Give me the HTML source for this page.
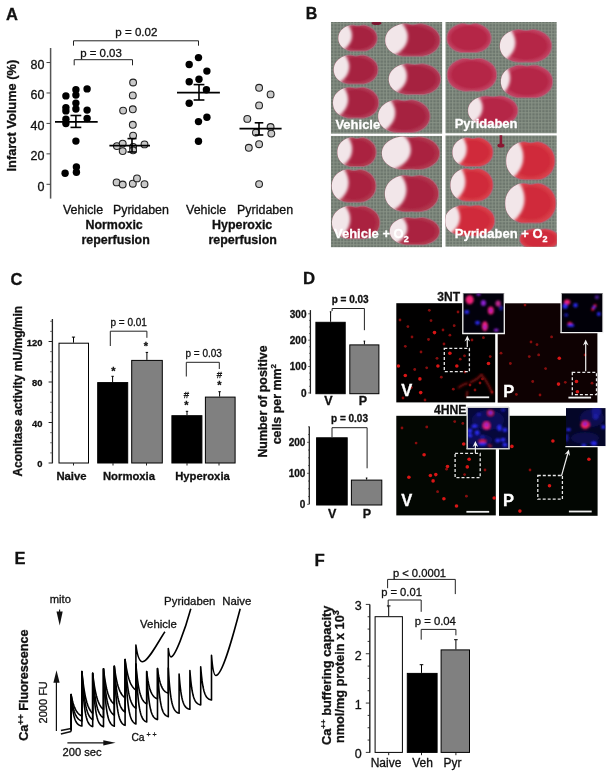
<!DOCTYPE html>
<html><head><meta charset="utf-8"><style>
html,body{margin:0;padding:0;background:#fff;}
svg{display:block;font-family:"Liberation Sans",sans-serif;will-change:transform;filter:blur(0.35px);}
text{stroke:#111;stroke-width:0.3px;}
text[fill="#fff"]{stroke:#fff;}
</style></head><body>
<svg width="612" height="777" viewBox="0 0 612 777">
<rect width="612" height="777" fill="#fff"/>
<text x="6.1" y="19.6" font-size="16.5" font-weight="bold" text-anchor="start" fill="#111" >A</text>
<line x1="50.6" y1="48" x2="50.6" y2="198.6" stroke="#555" stroke-width="1.5"/>
<line x1="46.5" y1="184.3" x2="50.5" y2="184.3" stroke="#444" stroke-width="1"/>
<text x="44.5" y="190.5" font-size="12.5" font-weight="normal" text-anchor="end" fill="#111" >0</text>
<line x1="46.5" y1="153.86" x2="50.5" y2="153.86" stroke="#444" stroke-width="1"/>
<text x="44.5" y="160.06" font-size="12.5" font-weight="normal" text-anchor="end" fill="#111" >20</text>
<line x1="46.5" y1="123.42000000000002" x2="50.5" y2="123.42000000000002" stroke="#444" stroke-width="1"/>
<text x="44.5" y="129.62" font-size="12.5" font-weight="normal" text-anchor="end" fill="#111" >40</text>
<line x1="46.5" y1="92.98" x2="50.5" y2="92.98" stroke="#444" stroke-width="1"/>
<text x="44.5" y="99.18" font-size="12.5" font-weight="normal" text-anchor="end" fill="#111" >60</text>
<line x1="46.5" y1="62.540000000000006" x2="50.5" y2="62.540000000000006" stroke="#444" stroke-width="1"/>
<text x="44.5" y="68.74000000000001" font-size="12.5" font-weight="normal" text-anchor="end" fill="#111" >80</text>
<text transform="translate(16.2,115.6) rotate(-90)" font-size="12.85" font-weight="bold" text-anchor="middle" fill="#111">Infarct Volume (%)</text>
<path d="M73.5,45.7 V40.8 H198.5 V45.7" fill="none" stroke="#222" stroke-width="1"/>
<text x="136.4" y="36" font-size="11.55" font-weight="normal" text-anchor="middle" fill="#111" >p = 0.02</text>
<path d="M74.2,65.3 V59.7 H132.5 V65.3" fill="none" stroke="#222" stroke-width="1"/>
<text x="101" y="56.8" font-size="11.45" font-weight="normal" text-anchor="middle" fill="#111" >p = 0.03</text>
<circle cx="65.9" cy="95.9" r="3.7" fill="#000"/>
<circle cx="75.9" cy="89.7" r="3.7" fill="#000"/>
<circle cx="75.9" cy="95.1" r="3.7" fill="#000"/>
<circle cx="87.1" cy="88.9" r="3.7" fill="#000"/>
<circle cx="65.9" cy="107.6" r="3.7" fill="#000"/>
<circle cx="65.9" cy="110.9" r="3.7" fill="#000"/>
<circle cx="75.9" cy="103.1" r="3.7" fill="#000"/>
<circle cx="75.9" cy="109" r="3.7" fill="#000"/>
<circle cx="87.1" cy="110.1" r="3.7" fill="#000"/>
<circle cx="65.9" cy="119.3" r="3.7" fill="#000"/>
<circle cx="65.9" cy="123.5" r="3.7" fill="#000"/>
<circle cx="87.1" cy="118.5" r="3.7" fill="#000"/>
<circle cx="75.9" cy="141.1" r="3.7" fill="#000"/>
<circle cx="65.1" cy="173.3" r="3.7" fill="#000"/>
<circle cx="76.4" cy="167" r="3.7" fill="#000"/>
<circle cx="76.4" cy="172.3" r="3.7" fill="#000"/>
<circle cx="198.5" cy="57.6" r="3.7" fill="#000"/>
<circle cx="189.2" cy="64.5" r="3.7" fill="#000"/>
<circle cx="206.9" cy="71.1" r="3.7" fill="#000"/>
<circle cx="189.2" cy="81.7" r="3.7" fill="#000"/>
<circle cx="199" cy="79.2" r="3.7" fill="#000"/>
<circle cx="206.4" cy="89.8" r="3.7" fill="#000"/>
<circle cx="189.2" cy="103.2" r="3.7" fill="#000"/>
<circle cx="198.5" cy="121.6" r="3.7" fill="#000"/>
<circle cx="206.9" cy="117.2" r="3.7" fill="#000"/>
<circle cx="198.5" cy="141.2" r="3.7" fill="#000"/>
<circle cx="133.1" cy="82.5" r="3.4" fill="#c9c9c9" stroke="#222" stroke-width="1.1"/>
<circle cx="132.8" cy="95.4" r="3.4" fill="#c9c9c9" stroke="#222" stroke-width="1.1"/>
<circle cx="132.8" cy="109.3" r="3.4" fill="#c9c9c9" stroke="#222" stroke-width="1.1"/>
<circle cx="123.1" cy="110.6" r="3.4" fill="#c9c9c9" stroke="#222" stroke-width="1.1"/>
<circle cx="132.8" cy="124.8" r="3.4" fill="#c9c9c9" stroke="#222" stroke-width="1.1"/>
<circle cx="133.1" cy="135.6" r="3.4" fill="#c9c9c9" stroke="#222" stroke-width="1.1"/>
<circle cx="116.9" cy="146.1" r="3.4" fill="#c9c9c9" stroke="#222" stroke-width="1.1"/>
<circle cx="122.7" cy="143.6" r="3.4" fill="#c9c9c9" stroke="#222" stroke-width="1.1"/>
<circle cx="122.7" cy="151.1" r="3.4" fill="#c9c9c9" stroke="#222" stroke-width="1.1"/>
<circle cx="133.1" cy="146.9" r="3.4" fill="#c9c9c9" stroke="#222" stroke-width="1.1"/>
<circle cx="133.1" cy="150.3" r="3.4" fill="#c9c9c9" stroke="#222" stroke-width="1.1"/>
<circle cx="144.5" cy="144.4" r="3.4" fill="#c9c9c9" stroke="#222" stroke-width="1.1"/>
<circle cx="116.6" cy="182.4" r="3.4" fill="#c9c9c9" stroke="#222" stroke-width="1.1"/>
<circle cx="122.7" cy="184.5" r="3.4" fill="#c9c9c9" stroke="#222" stroke-width="1.1"/>
<circle cx="132.8" cy="183.7" r="3.4" fill="#c9c9c9" stroke="#222" stroke-width="1.1"/>
<circle cx="137" cy="178.4" r="3.4" fill="#c9c9c9" stroke="#222" stroke-width="1.1"/>
<circle cx="144.5" cy="184.2" r="3.4" fill="#c9c9c9" stroke="#222" stroke-width="1.1"/>
<circle cx="259.1" cy="87.8" r="3.4" fill="#c9c9c9" stroke="#222" stroke-width="1.1"/>
<circle cx="270.6" cy="94.4" r="3.4" fill="#c9c9c9" stroke="#222" stroke-width="1.1"/>
<circle cx="259.1" cy="105.4" r="3.4" fill="#c9c9c9" stroke="#222" stroke-width="1.1"/>
<circle cx="247.3" cy="118.9" r="3.4" fill="#c9c9c9" stroke="#222" stroke-width="1.1"/>
<circle cx="255.9" cy="132.6" r="3.4" fill="#c9c9c9" stroke="#222" stroke-width="1.1"/>
<circle cx="270.6" cy="127" r="3.4" fill="#c9c9c9" stroke="#222" stroke-width="1.1"/>
<circle cx="271.3" cy="133.6" r="3.4" fill="#c9c9c9" stroke="#222" stroke-width="1.1"/>
<circle cx="259.1" cy="144.2" r="3.4" fill="#c9c9c9" stroke="#222" stroke-width="1.1"/>
<circle cx="248.8" cy="147.8" r="3.4" fill="#c9c9c9" stroke="#222" stroke-width="1.1"/>
<circle cx="259.1" cy="184.1" r="3.4" fill="#c9c9c9" stroke="#222" stroke-width="1.1"/>
<line x1="55" y1="121.8" x2="97.7" y2="121.8" stroke="#000" stroke-width="1.8"/>
<line x1="75.9" y1="115.5" x2="75.9" y2="127.4" stroke="#000" stroke-width="1.6"/>
<line x1="70.5" y1="115.5" x2="81.30000000000001" y2="115.5" stroke="#000" stroke-width="1.6"/>
<line x1="70.5" y1="127.4" x2="81.30000000000001" y2="127.4" stroke="#000" stroke-width="1.6"/>
<line x1="109.4" y1="145.6" x2="150" y2="145.6" stroke="#000" stroke-width="1.8"/>
<line x1="132" y1="138.6" x2="132" y2="152" stroke="#000" stroke-width="1.6"/>
<line x1="127.5" y1="138.6" x2="136.5" y2="138.6" stroke="#000" stroke-width="1.6"/>
<line x1="127.5" y1="152" x2="136.5" y2="152" stroke="#000" stroke-width="1.6"/>
<line x1="177" y1="92.7" x2="219.9" y2="92.7" stroke="#000" stroke-width="1.8"/>
<line x1="199" y1="84.6" x2="199" y2="100" stroke="#000" stroke-width="1.6"/>
<line x1="193.6" y1="84.6" x2="204.4" y2="84.6" stroke="#000" stroke-width="1.6"/>
<line x1="193.6" y1="100" x2="204.4" y2="100" stroke="#000" stroke-width="1.6"/>
<line x1="239.5" y1="128.7" x2="281.6" y2="128.7" stroke="#000" stroke-width="1.8"/>
<line x1="259" y1="122.8" x2="259" y2="135" stroke="#000" stroke-width="1.6"/>
<line x1="254.7" y1="122.8" x2="263.3" y2="122.8" stroke="#000" stroke-width="1.6"/>
<line x1="254.7" y1="135" x2="263.3" y2="135" stroke="#000" stroke-width="1.6"/>
<text x="83" y="213.6" font-size="12.45" font-weight="normal" text-anchor="middle" fill="#111" >Vehicle</text>
<text x="140.9" y="213.6" font-size="12.45" font-weight="normal" text-anchor="middle" fill="#111" >Pyridaben</text>
<text x="114.1" y="229.3" font-size="12.45" font-weight="bold" text-anchor="middle" fill="#111" >Normoxic</text>
<text x="115.6" y="243.7" font-size="12.45" font-weight="bold" text-anchor="middle" fill="#111" >reperfusion</text>
<text x="206.1" y="213.6" font-size="12.45" font-weight="normal" text-anchor="middle" fill="#111" >Vehicle</text>
<text x="265.1" y="213.6" font-size="12.45" font-weight="normal" text-anchor="middle" fill="#111" >Pyridaben</text>
<text x="242.2" y="229.3" font-size="12.45" font-weight="bold" text-anchor="middle" fill="#111" >Hyperoxic</text>
<text x="242.7" y="243.7" font-size="12.45" font-weight="bold" text-anchor="middle" fill="#111" >reperfusion</text>
<text x="305.8" y="18.9" font-size="16" font-weight="bold" text-anchor="start" fill="#111" >B</text>
<defs>
<pattern id="grid" width="3.3" height="3.3" patternUnits="userSpaceOnUse">
<rect width="3.3" height="3.3" fill="#6c766d"/>
<path d="M0,0.6 H3.3 M0.6,0 V3.3" stroke="#8a9488" stroke-width="0.9"/>
</pattern>
<filter id="bl" x="-20%" y="-20%" width="140%" height="140%"><feGaussianBlur stdDeviation="0.7"/></filter>
<filter id="blw" x="-30%" y="-30%" width="160%" height="160%"><feGaussianBlur stdDeviation="1.6"/></filter>
<filter id="bgb"><feGaussianBlur stdDeviation="0.6"/></filter>
</defs>
<clipPath id="pc0"><rect x="330.8" y="22.0" width="111.6" height="111.8"/></clipPath>
<radialGradient id="rg0"><stop offset="0" stop-color="#a6203f"/><stop offset="0.78" stop-color="#a6203f"/><stop offset="1" stop-color="#b03a55"/></radialGradient>
<g clip-path="url(#pc0)">
<rect x="330.8" y="22.0" width="111.6" height="111.8" fill="url(#grid)" filter="url(#bgb)"/>
<clipPath id="s0_0"><path d="M338.40,38.20 L338.47,36.75 L338.68,35.45 L339.02,34.22 L339.50,33.04 L340.11,31.92 L340.84,30.85 L341.70,29.85 L342.68,28.92 L343.77,28.06 L344.97,27.27 L346.27,26.57 L347.67,25.95 L349.16,25.44 L350.75,25.05 L352.45,24.89 L354.25,25.04 L356.05,25.40 L357.90,25.60 L359.75,25.40 L361.55,25.04 L363.35,24.89 L365.05,25.05 L366.64,25.44 L368.13,25.95 L369.53,26.57 L370.83,27.27 L372.03,28.06 L373.12,28.92 L374.10,29.85 L374.96,30.85 L375.69,31.92 L376.30,33.04 L376.78,34.22 L377.12,35.45 L377.33,36.75 L377.40,38.20 L377.33,39.65 L377.12,40.95 L376.78,42.18 L376.30,43.36 L375.69,44.48 L374.96,45.55 L374.10,46.55 L373.12,47.48 L372.03,48.34 L370.82,49.12 L369.51,49.82 L368.10,50.41 L366.58,50.87 L364.96,51.17 L363.26,51.31 L361.54,51.31 L359.79,51.25 L357.90,51.22 L356.01,51.25 L354.26,51.31 L352.54,51.31 L350.84,51.17 L349.22,50.87 L347.70,50.41 L346.29,49.82 L344.98,49.12 L343.77,48.34 L342.68,47.48 L341.70,46.55 L340.84,45.55 L340.11,44.48 L339.50,43.36 L339.02,42.18 L338.68,40.95 L338.47,39.65Z"/></clipPath>
<g filter="url(#bl)"><path d="M338.10,38.20 L338.17,36.72 L338.38,35.39 L338.73,34.13 L339.21,32.93 L339.83,31.78 L340.58,30.70 L341.45,29.67 L342.45,28.72 L343.56,27.84 L344.77,27.04 L346.09,26.32 L347.51,25.69 L349.02,25.16 L350.64,24.77 L352.37,24.60 L354.20,24.76 L356.02,25.13 L357.90,25.33 L359.78,25.13 L361.60,24.76 L363.43,24.60 L365.16,24.77 L366.78,25.16 L368.29,25.69 L369.71,26.32 L371.03,27.04 L372.24,27.84 L373.35,28.72 L374.35,29.67 L375.22,30.70 L375.97,31.78 L376.59,32.93 L377.07,34.13 L377.42,35.39 L377.63,36.72 L377.70,38.20 L377.63,39.68 L377.42,41.01 L377.07,42.27 L376.59,43.47 L375.97,44.62 L375.22,45.70 L374.35,46.73 L373.35,47.68 L372.24,48.56 L371.02,49.36 L369.69,50.06 L368.26,50.67 L366.71,51.14 L365.07,51.45 L363.35,51.59 L361.59,51.59 L359.81,51.53 L357.90,51.50 L355.99,51.53 L354.21,51.59 L352.45,51.59 L350.73,51.45 L349.09,51.14 L347.54,50.67 L346.11,50.06 L344.78,49.36 L343.56,48.56 L342.45,47.68 L341.45,46.73 L340.58,45.70 L339.83,44.62 L339.21,43.47 L338.73,42.27 L338.38,41.01 L338.17,39.68Z" fill="#a86878"/>
<path d="M339.20,38.20 L339.27,36.84 L339.46,35.61 L339.79,34.45 L340.25,33.33 L340.84,32.28 L341.54,31.27 L342.37,30.33 L343.31,29.45 L344.35,28.64 L345.50,27.90 L346.75,27.24 L348.09,26.65 L349.51,26.16 L351.04,25.80 L352.68,25.65 L354.40,25.79 L356.13,26.13 L357.90,26.32 L359.67,26.13 L361.40,25.79 L363.12,25.65 L364.76,25.80 L366.29,26.16 L367.71,26.65 L369.05,27.24 L370.30,27.90 L371.45,28.64 L372.49,29.45 L373.43,30.33 L374.26,31.27 L374.96,32.28 L375.55,33.33 L376.01,34.45 L376.34,35.61 L376.53,36.84 L376.60,38.20 L376.53,39.56 L376.34,40.79 L376.01,41.95 L375.55,43.07 L374.96,44.12 L374.26,45.13 L373.43,46.07 L372.49,46.95 L371.45,47.76 L370.29,48.50 L369.04,49.15 L367.68,49.71 L366.22,50.14 L364.67,50.43 L363.04,50.56 L361.39,50.56 L359.71,50.51 L357.90,50.48 L356.09,50.51 L354.41,50.56 L352.76,50.56 L351.13,50.43 L349.58,50.14 L348.12,49.71 L346.76,49.15 L345.51,48.50 L344.35,47.76 L343.31,46.95 L342.37,46.07 L341.54,45.13 L340.84,44.12 L340.25,43.07 L339.79,41.95 L339.46,40.79 L339.27,39.56Z" fill="url(#rg0)"/></g>
<g clip-path="url(#s0_0)"><ellipse cx="333.525" cy="35.400000000000006" rx="18.525" ry="16.8" fill="#f2e6e9" filter="url(#blw)"/></g>
<clipPath id="s0_1"><path d="M385.30,40.20 L385.40,38.39 L385.69,36.77 L386.17,35.22 L386.85,33.75 L387.70,32.35 L388.74,31.02 L389.96,29.77 L391.34,28.60 L392.88,27.52 L394.57,26.54 L396.40,25.66 L398.37,24.89 L400.47,24.24 L402.71,23.76 L405.12,23.56 L407.66,23.75 L410.19,24.20 L412.80,24.45 L415.41,24.20 L417.94,23.75 L420.48,23.56 L422.89,23.76 L425.13,24.24 L427.23,24.89 L429.20,25.66 L431.03,26.54 L432.72,27.52 L434.26,28.60 L435.64,29.77 L436.86,31.02 L437.90,32.35 L438.75,33.75 L439.43,35.22 L439.91,36.77 L440.20,38.39 L440.30,40.20 L440.20,42.01 L439.91,43.63 L439.43,45.18 L438.75,46.65 L437.90,48.05 L436.86,49.38 L435.64,50.63 L434.26,51.80 L432.72,52.88 L431.02,53.85 L429.18,54.72 L427.18,55.46 L425.04,56.03 L422.75,56.42 L420.37,56.59 L417.93,56.59 L415.46,56.52 L412.80,56.48 L410.14,56.52 L407.67,56.59 L405.23,56.59 L402.85,56.42 L400.56,56.03 L398.42,55.46 L396.42,54.72 L394.58,53.85 L392.88,52.88 L391.34,51.80 L389.96,50.63 L388.74,49.38 L387.70,48.05 L386.85,46.65 L386.17,45.18 L385.69,43.63 L385.40,42.01Z"/></clipPath>
<g filter="url(#bl)"><path d="M385.00,40.20 L385.10,38.36 L385.39,36.71 L385.88,35.14 L386.56,33.64 L387.43,32.21 L388.48,30.86 L389.71,29.59 L391.10,28.40 L392.66,27.31 L394.37,26.31 L396.22,25.41 L398.21,24.63 L400.33,23.97 L402.60,23.48 L405.04,23.28 L407.60,23.47 L410.16,23.93 L412.80,24.18 L415.44,23.93 L418.00,23.47 L420.56,23.28 L423.00,23.48 L425.27,23.97 L427.39,24.63 L429.38,25.41 L431.23,26.31 L432.94,27.31 L434.50,28.40 L435.89,29.59 L437.12,30.86 L438.17,32.21 L439.04,33.64 L439.72,35.14 L440.21,36.71 L440.50,38.36 L440.60,40.20 L440.50,42.04 L440.21,43.69 L439.72,45.26 L439.04,46.76 L438.17,48.19 L437.12,49.54 L435.89,50.81 L434.50,52.00 L432.94,53.09 L431.22,54.09 L429.36,54.97 L427.34,55.72 L425.17,56.31 L422.86,56.70 L420.45,56.87 L417.98,56.87 L415.49,56.80 L412.80,56.75 L410.11,56.80 L407.62,56.87 L405.15,56.87 L402.74,56.70 L400.43,56.31 L398.26,55.72 L396.24,54.97 L394.38,54.09 L392.66,53.09 L391.10,52.00 L389.71,50.81 L388.48,49.54 L387.43,48.19 L386.56,46.76 L385.88,45.26 L385.39,43.69 L385.10,42.04Z" fill="#a86878"/>
<path d="M386.10,40.20 L386.19,38.47 L386.48,36.92 L386.95,35.45 L387.60,34.04 L388.43,32.71 L389.44,31.44 L390.62,30.24 L391.96,29.13 L393.46,28.10 L395.10,27.17 L396.88,26.33 L398.79,25.59 L400.83,24.97 L403.01,24.51 L405.34,24.32 L407.81,24.50 L410.27,24.93 L412.80,25.17 L415.33,24.93 L417.79,24.50 L420.26,24.32 L422.59,24.51 L424.77,24.97 L426.81,25.59 L428.72,26.33 L430.50,27.17 L432.14,28.10 L433.64,29.13 L434.98,30.24 L436.16,31.44 L437.17,32.71 L438.00,34.04 L438.65,35.45 L439.12,36.92 L439.41,38.47 L439.50,40.20 L439.41,41.93 L439.12,43.48 L438.65,44.95 L438.00,46.36 L437.17,47.69 L436.16,48.96 L434.98,50.16 L433.64,51.27 L432.14,52.30 L430.49,53.23 L428.70,54.06 L426.76,54.76 L424.68,55.31 L422.46,55.68 L420.15,55.84 L417.78,55.84 L415.38,55.77 L412.80,55.73 L410.22,55.77 L407.82,55.84 L405.45,55.84 L403.14,55.68 L400.92,55.31 L398.84,54.76 L396.90,54.06 L395.11,53.23 L393.46,52.30 L391.96,51.27 L390.62,50.16 L389.44,48.96 L388.43,47.69 L387.60,46.36 L386.95,44.95 L386.48,43.48 L386.19,41.93Z" fill="url(#rg0)"/></g>
<g clip-path="url(#s0_1)"><ellipse cx="381.725" cy="36.7" rx="26.125" ry="21.0" fill="#f2e6e9" filter="url(#blw)"/></g>
<clipPath id="s0_2"><path d="M333.80,69.70 L333.88,68.09 L334.11,66.64 L334.50,65.26 L335.05,63.95 L335.74,62.70 L336.58,61.51 L337.56,60.40 L338.67,59.36 L339.92,58.40 L341.28,57.53 L342.76,56.74 L344.35,56.06 L346.05,55.48 L347.86,55.05 L349.80,54.87 L351.85,55.04 L353.90,55.44 L356.00,55.66 L358.10,55.44 L360.15,55.04 L362.20,54.87 L364.14,55.05 L365.95,55.48 L367.65,56.06 L369.24,56.74 L370.72,57.53 L372.08,58.40 L373.33,59.36 L374.44,60.40 L375.42,61.51 L376.26,62.70 L376.95,63.95 L377.50,65.26 L377.89,66.64 L378.12,68.09 L378.20,69.70 L378.12,71.31 L377.89,72.76 L377.50,74.14 L376.95,75.45 L376.26,76.70 L375.42,77.89 L374.44,79.00 L373.33,80.04 L372.08,81.00 L370.71,81.87 L369.22,82.64 L367.61,83.30 L365.88,83.82 L364.04,84.16 L362.11,84.31 L360.14,84.31 L358.15,84.24 L356.00,84.21 L353.85,84.24 L351.86,84.31 L349.89,84.31 L347.96,84.16 L346.12,83.82 L344.39,83.30 L342.78,82.64 L341.29,81.87 L339.92,81.00 L338.67,80.04 L337.56,79.00 L336.58,77.89 L335.74,76.70 L335.05,75.45 L334.50,74.14 L334.11,72.76 L333.88,71.31Z"/></clipPath>
<g filter="url(#bl)"><path d="M333.50,69.70 L333.58,68.06 L333.82,66.58 L334.21,65.18 L334.76,63.84 L335.47,62.56 L336.32,61.36 L337.31,60.22 L338.44,59.16 L339.70,58.18 L341.08,57.29 L342.58,56.49 L344.19,55.79 L345.91,55.20 L347.75,54.77 L349.72,54.58 L351.79,54.76 L353.87,55.17 L356.00,55.39 L358.13,55.17 L360.21,54.76 L362.28,54.58 L364.25,54.77 L366.09,55.20 L367.81,55.79 L369.42,56.49 L370.92,57.29 L372.30,58.18 L373.56,59.16 L374.69,60.22 L375.68,61.36 L376.53,62.56 L377.24,63.84 L377.79,65.18 L378.18,66.58 L378.42,68.06 L378.50,69.70 L378.42,71.34 L378.18,72.82 L377.79,74.22 L377.24,75.56 L376.53,76.84 L375.68,78.04 L374.69,79.18 L373.56,80.24 L372.30,81.22 L370.91,82.10 L369.40,82.89 L367.77,83.56 L366.01,84.09 L364.14,84.43 L362.19,84.59 L360.19,84.59 L358.18,84.52 L356.00,84.49 L353.82,84.52 L351.81,84.59 L349.81,84.59 L347.86,84.43 L345.99,84.09 L344.23,83.56 L342.60,82.89 L341.09,82.10 L339.70,81.22 L338.44,80.24 L337.31,79.18 L336.32,78.04 L335.47,76.84 L334.76,75.56 L334.21,74.22 L333.82,72.82 L333.58,71.34Z" fill="#a86878"/>
<path d="M334.60,69.70 L334.68,68.17 L334.90,66.80 L335.28,65.49 L335.80,64.24 L336.47,63.06 L337.28,61.93 L338.22,60.88 L339.30,59.89 L340.50,58.98 L341.81,58.15 L343.24,57.41 L344.77,56.75 L346.40,56.21 L348.15,55.80 L350.02,55.63 L352.00,55.79 L353.97,56.17 L356.00,56.38 L358.03,56.17 L360.00,55.79 L361.98,55.63 L363.85,55.80 L365.60,56.21 L367.23,56.75 L368.76,57.41 L370.19,58.15 L371.50,58.98 L372.70,59.89 L373.78,60.88 L374.72,61.93 L375.53,63.06 L376.20,64.24 L376.72,65.49 L377.10,66.80 L377.32,68.17 L377.40,69.70 L377.32,71.23 L377.10,72.60 L376.72,73.91 L376.20,75.16 L375.53,76.34 L374.72,77.47 L373.78,78.52 L372.70,79.51 L371.50,80.42 L370.18,81.25 L368.75,81.98 L367.19,82.60 L365.52,83.09 L363.75,83.42 L361.89,83.56 L359.99,83.56 L358.07,83.50 L356.00,83.46 L353.93,83.50 L352.01,83.56 L350.11,83.56 L348.25,83.42 L346.48,83.09 L344.81,82.60 L343.25,81.98 L341.82,81.25 L340.50,80.42 L339.30,79.51 L338.22,78.52 L337.28,77.47 L336.47,76.34 L335.80,75.16 L335.28,73.91 L334.90,72.60 L334.68,71.23Z" fill="url(#rg0)"/></g>
<g clip-path="url(#s0_2)"><ellipse cx="328.25" cy="66.58" rx="21.09" ry="18.72" fill="#f2e6e9" filter="url(#blw)"/></g>
<clipPath id="s0_3"><path d="M388.80,79.30 L388.89,77.58 L389.17,76.04 L389.63,74.58 L390.26,73.18 L391.07,71.85 L392.06,70.59 L393.20,69.40 L394.51,68.30 L395.97,67.27 L397.56,66.35 L399.30,65.51 L401.16,64.78 L403.14,64.16 L405.26,63.71 L407.54,63.52 L409.94,63.70 L412.34,64.13 L414.80,64.36 L417.26,64.13 L419.66,63.70 L422.06,63.52 L424.34,63.71 L426.46,64.16 L428.44,64.78 L430.30,65.51 L432.04,66.35 L433.63,67.27 L435.09,68.30 L436.40,69.40 L437.54,70.59 L438.53,71.85 L439.34,73.18 L439.97,74.58 L440.43,76.04 L440.71,77.58 L440.80,79.30 L440.71,81.02 L440.43,82.56 L439.97,84.02 L439.34,85.42 L438.53,86.75 L437.54,88.01 L436.40,89.20 L435.09,90.30 L433.63,91.32 L432.03,92.25 L430.29,93.07 L428.40,93.77 L426.37,94.32 L424.21,94.68 L421.95,94.85 L419.65,94.85 L417.31,94.78 L414.80,94.74 L412.29,94.78 L409.95,94.85 L407.65,94.85 L405.39,94.68 L403.23,94.32 L401.20,93.77 L399.31,93.07 L397.57,92.25 L395.97,91.32 L394.51,90.30 L393.20,89.20 L392.06,88.01 L391.07,86.75 L390.26,85.42 L389.63,84.02 L389.17,82.56 L388.89,81.02Z"/></clipPath>
<g filter="url(#bl)"><path d="M388.50,79.30 L388.59,77.55 L388.87,75.98 L389.33,74.49 L389.98,73.07 L390.80,71.72 L391.79,70.43 L392.95,69.22 L394.27,68.10 L395.75,67.06 L397.37,66.11 L399.12,65.26 L401.00,64.52 L403.01,63.89 L405.15,63.43 L407.45,63.23 L409.88,63.42 L412.31,63.85 L414.80,64.09 L417.29,63.85 L419.72,63.42 L422.15,63.23 L424.45,63.43 L426.59,63.89 L428.60,64.52 L430.48,65.26 L432.23,66.11 L433.85,67.06 L435.33,68.10 L436.65,69.22 L437.81,70.43 L438.80,71.72 L439.62,73.07 L440.27,74.49 L440.73,75.98 L441.01,77.55 L441.10,79.30 L441.01,81.05 L440.73,82.62 L440.27,84.11 L439.62,85.53 L438.80,86.88 L437.81,88.17 L436.65,89.38 L435.32,90.50 L433.85,91.54 L432.23,92.49 L430.46,93.32 L428.56,94.03 L426.50,94.59 L424.32,94.96 L422.04,95.13 L419.70,95.13 L417.34,95.06 L414.80,95.02 L412.26,95.06 L409.90,95.13 L407.56,95.13 L405.28,94.96 L403.10,94.59 L401.04,94.03 L399.14,93.32 L397.37,92.49 L395.75,91.54 L394.28,90.50 L392.95,89.38 L391.79,88.17 L390.80,86.88 L389.98,85.53 L389.33,84.11 L388.87,82.62 L388.59,81.05Z" fill="#a86878"/>
<path d="M389.60,79.30 L389.69,77.67 L389.96,76.20 L390.40,74.81 L391.02,73.48 L391.80,72.21 L392.76,71.01 L393.87,69.88 L395.13,68.83 L396.54,67.85 L398.09,66.97 L399.77,66.18 L401.58,65.48 L403.50,64.89 L405.56,64.46 L407.76,64.28 L410.09,64.45 L412.41,64.86 L414.80,65.08 L417.19,64.86 L419.51,64.45 L421.84,64.28 L424.04,64.46 L426.10,64.89 L428.02,65.48 L429.83,66.18 L431.51,66.97 L433.06,67.85 L434.47,68.83 L435.73,69.88 L436.84,71.01 L437.80,72.21 L438.58,73.48 L439.20,74.81 L439.64,76.20 L439.91,77.67 L440.00,79.30 L439.91,80.93 L439.64,82.40 L439.20,83.79 L438.58,85.12 L437.80,86.39 L436.84,87.59 L435.73,88.72 L434.47,89.77 L433.05,90.74 L431.50,91.63 L429.81,92.41 L427.98,93.08 L426.01,93.60 L423.92,93.94 L421.73,94.10 L419.50,94.10 L417.24,94.03 L414.80,93.99 L412.36,94.03 L410.10,94.10 L407.87,94.10 L405.68,93.94 L403.59,93.60 L401.62,93.08 L399.79,92.41 L398.10,91.63 L396.55,90.74 L395.13,89.77 L393.87,88.72 L392.76,87.59 L391.80,86.39 L391.02,85.12 L390.40,83.79 L389.96,82.40 L389.69,80.93Z" fill="url(#rg0)"/></g>
<g clip-path="url(#s0_3)"><ellipse cx="382.3" cy="75.97999999999999" rx="24.7" ry="19.92" fill="#f2e6e9" filter="url(#blw)"/></g>
<clipPath id="s0_4"><path d="M333.00,102.80 L333.08,101.08 L333.33,99.54 L333.73,98.08 L334.29,96.68 L335.01,95.35 L335.88,94.09 L336.90,92.90 L338.05,91.80 L339.34,90.77 L340.75,89.85 L342.29,89.01 L343.93,88.28 L345.69,87.66 L347.56,87.21 L349.58,87.02 L351.70,87.20 L353.82,87.63 L356.00,87.86 L358.18,87.63 L360.30,87.20 L362.42,87.02 L364.44,87.21 L366.31,87.66 L368.07,88.28 L369.71,89.01 L371.25,89.85 L372.66,90.77 L373.95,91.80 L375.10,92.90 L376.12,94.09 L376.99,95.35 L377.71,96.68 L378.27,98.08 L378.67,99.54 L378.92,101.08 L379.00,102.80 L378.92,104.52 L378.67,106.06 L378.27,107.52 L377.71,108.92 L376.99,110.25 L376.12,111.51 L375.10,112.70 L373.95,113.80 L372.66,114.82 L371.24,115.75 L369.70,116.57 L368.03,117.27 L366.24,117.82 L364.32,118.18 L362.33,118.35 L360.29,118.35 L358.22,118.28 L356.00,118.24 L353.78,118.28 L351.71,118.35 L349.67,118.35 L347.68,118.18 L345.76,117.82 L343.97,117.27 L342.30,116.57 L340.76,115.75 L339.34,114.82 L338.05,113.80 L336.90,112.70 L335.88,111.51 L335.01,110.25 L334.29,108.92 L333.73,107.52 L333.33,106.06 L333.08,104.52Z"/></clipPath>
<g filter="url(#bl)"><path d="M332.70,102.80 L332.78,101.05 L333.03,99.48 L333.44,97.99 L334.01,96.57 L334.74,95.22 L335.62,93.93 L336.65,92.72 L337.82,91.60 L339.12,90.56 L340.55,89.61 L342.11,88.76 L343.77,88.02 L345.55,87.39 L347.45,86.93 L349.49,86.73 L351.64,86.92 L353.79,87.35 L356.00,87.59 L358.21,87.35 L360.36,86.92 L362.51,86.73 L364.55,86.93 L366.45,87.39 L368.23,88.02 L369.89,88.76 L371.45,89.61 L372.88,90.56 L374.18,91.60 L375.35,92.72 L376.38,93.93 L377.26,95.22 L377.99,96.57 L378.56,97.99 L378.97,99.48 L379.22,101.05 L379.30,102.80 L379.22,104.55 L378.97,106.12 L378.56,107.61 L377.99,109.03 L377.26,110.38 L376.38,111.67 L375.35,112.88 L374.18,114.00 L372.88,115.04 L371.44,115.99 L369.88,116.82 L368.19,117.53 L366.37,118.09 L364.43,118.46 L362.41,118.63 L360.34,118.63 L358.25,118.56 L356.00,118.52 L353.75,118.56 L351.66,118.63 L349.59,118.63 L347.57,118.46 L345.63,118.09 L343.81,117.53 L342.12,116.82 L340.56,115.99 L339.12,115.04 L337.82,114.00 L336.65,112.88 L335.62,111.67 L334.74,110.38 L334.01,109.03 L333.44,107.61 L333.03,106.12 L332.78,104.55Z" fill="#a86878"/>
<path d="M333.80,102.80 L333.88,101.17 L334.11,99.70 L334.50,98.31 L335.05,96.98 L335.74,95.71 L336.58,94.51 L337.56,93.38 L338.67,92.33 L339.92,91.35 L341.28,90.47 L342.76,89.68 L344.35,88.98 L346.05,88.39 L347.86,87.96 L349.80,87.78 L351.85,87.95 L353.90,88.36 L356.00,88.58 L358.10,88.36 L360.15,87.95 L362.20,87.78 L364.14,87.96 L365.95,88.39 L367.65,88.98 L369.24,89.68 L370.72,90.47 L372.08,91.35 L373.33,92.33 L374.44,93.38 L375.42,94.51 L376.26,95.71 L376.95,96.98 L377.50,98.31 L377.89,99.70 L378.12,101.17 L378.20,102.80 L378.12,104.43 L377.89,105.90 L377.50,107.29 L376.95,108.62 L376.26,109.89 L375.42,111.09 L374.44,112.22 L373.33,113.27 L372.08,114.24 L370.71,115.13 L369.22,115.91 L367.61,116.58 L365.88,117.10 L364.04,117.44 L362.11,117.60 L360.14,117.60 L358.15,117.53 L356.00,117.49 L353.85,117.53 L351.86,117.60 L349.89,117.60 L347.96,117.44 L346.12,117.10 L344.39,116.58 L342.78,115.91 L341.29,115.13 L339.92,114.24 L338.67,113.27 L337.56,112.22 L336.58,111.09 L335.74,109.89 L335.05,108.62 L334.50,107.29 L334.11,105.90 L333.88,104.43Z" fill="url(#rg0)"/></g>
<g clip-path="url(#s0_4)"><ellipse cx="326.33" cy="99.47999999999999" rx="21.849999999999998" ry="19.92" fill="#f2e6e9" filter="url(#blw)"/></g>
<clipPath id="s0_5"><path d="M378.20,116.30 L378.29,114.48 L378.57,112.85 L379.03,111.29 L379.66,109.81 L380.47,108.40 L381.46,107.06 L382.60,105.81 L383.91,104.63 L385.37,103.55 L386.96,102.56 L388.70,101.68 L390.56,100.91 L392.54,100.25 L394.66,99.77 L396.94,99.57 L399.34,99.76 L401.74,100.21 L404.20,100.46 L406.66,100.21 L409.06,99.76 L411.46,99.57 L413.74,99.77 L415.86,100.25 L417.84,100.91 L419.70,101.68 L421.44,102.56 L423.03,103.55 L424.49,104.63 L425.80,105.81 L426.94,107.06 L427.93,108.40 L428.74,109.81 L429.37,111.29 L429.83,112.85 L430.11,114.48 L430.20,116.30 L430.11,118.12 L429.83,119.75 L429.37,121.31 L428.74,122.79 L427.93,124.20 L426.94,125.54 L425.80,126.79 L424.49,127.97 L423.03,129.05 L421.43,130.03 L419.69,130.90 L417.80,131.64 L415.77,132.23 L413.61,132.61 L411.35,132.78 L409.05,132.79 L406.71,132.71 L404.20,132.67 L401.69,132.71 L399.35,132.79 L397.05,132.78 L394.79,132.61 L392.63,132.23 L390.60,131.64 L388.71,130.90 L386.97,130.03 L385.37,129.05 L383.91,127.97 L382.60,126.79 L381.46,125.54 L380.47,124.20 L379.66,122.79 L379.03,121.31 L378.57,119.75 L378.29,118.12Z"/></clipPath>
<g filter="url(#bl)"><path d="M377.90,116.30 L377.99,114.45 L378.27,112.79 L378.73,111.21 L379.38,109.70 L380.20,108.27 L381.19,106.91 L382.35,105.63 L383.67,104.43 L385.15,103.33 L386.77,102.33 L388.52,101.43 L390.40,100.64 L392.41,99.98 L394.55,99.49 L396.85,99.28 L399.28,99.48 L401.71,99.94 L404.20,100.19 L406.69,99.94 L409.12,99.48 L411.55,99.28 L413.85,99.49 L415.99,99.98 L418.00,100.64 L419.88,101.43 L421.63,102.33 L423.25,103.33 L424.73,104.43 L426.05,105.63 L427.21,106.91 L428.20,108.27 L429.02,109.70 L429.67,111.21 L430.13,112.79 L430.41,114.45 L430.50,116.30 L430.41,118.15 L430.13,119.81 L429.67,121.39 L429.02,122.90 L428.20,124.33 L427.21,125.69 L426.05,126.97 L424.72,128.17 L423.25,129.27 L421.63,130.27 L419.86,131.15 L417.96,131.91 L415.90,132.50 L413.72,132.89 L411.44,133.07 L409.10,133.07 L406.74,132.99 L404.20,132.95 L401.66,132.99 L399.30,133.07 L396.96,133.07 L394.68,132.89 L392.50,132.50 L390.44,131.91 L388.54,131.15 L386.77,130.27 L385.15,129.27 L383.68,128.17 L382.35,126.97 L381.19,125.69 L380.20,124.33 L379.38,122.90 L378.73,121.39 L378.27,119.81 L377.99,118.15Z" fill="#a86878"/>
<path d="M379.00,116.30 L379.09,114.56 L379.36,113.00 L379.80,111.52 L380.42,110.11 L381.20,108.76 L382.16,107.48 L383.27,106.28 L384.53,105.16 L385.94,104.13 L387.49,103.19 L389.17,102.35 L390.98,101.61 L392.90,100.98 L394.96,100.52 L397.16,100.33 L399.49,100.51 L401.81,100.94 L404.20,101.18 L406.59,100.94 L408.91,100.51 L411.24,100.33 L413.44,100.52 L415.50,100.98 L417.42,101.61 L419.23,102.35 L420.91,103.19 L422.46,104.13 L423.87,105.16 L425.13,106.28 L426.24,107.48 L427.20,108.76 L427.98,110.11 L428.60,111.52 L429.04,113.00 L429.31,114.56 L429.40,116.30 L429.31,118.04 L429.04,119.60 L428.60,121.08 L427.98,122.49 L427.20,123.84 L426.24,125.12 L425.13,126.32 L423.87,127.44 L422.45,128.47 L420.90,129.41 L419.21,130.24 L417.38,130.95 L415.41,131.50 L413.32,131.87 L411.13,132.04 L408.90,132.04 L406.64,131.96 L404.20,131.92 L401.76,131.96 L399.50,132.04 L397.27,132.04 L395.08,131.87 L392.99,131.50 L391.02,130.95 L389.19,130.24 L387.50,129.41 L385.95,128.47 L384.53,127.44 L383.27,126.32 L382.16,125.12 L381.20,123.84 L380.42,122.49 L379.80,121.08 L379.36,119.60 L379.09,118.04Z" fill="url(#rg0)"/></g>
<g clip-path="url(#s0_5)"><ellipse cx="370.65999999999997" cy="112.78" rx="24.7" ry="21.12" fill="#f2e6e9" filter="url(#blw)"/></g>
<g filter="url(#bl)"><ellipse cx="376.5" cy="23.2" rx="5" ry="1.8" fill="#7a1830"/></g>
</g>
<text x="335.4" y="129" font-size="13" font-weight="bold" text-anchor="start" fill="#fff" >Vehicle</text>
<clipPath id="pc1"><rect x="445.3" y="22.0" width="111.5" height="111.5"/></clipPath>
<radialGradient id="rg1"><stop offset="0" stop-color="#b52546"/><stop offset="0.78" stop-color="#b52546"/><stop offset="1" stop-color="#c04060"/></radialGradient>
<g clip-path="url(#pc1)">
<rect x="445.3" y="22.0" width="111.5" height="111.5" fill="url(#grid)" filter="url(#bgb)"/>
<clipPath id="s1_0"><path d="M446.60,38.20 L446.68,36.59 L446.92,35.14 L447.31,33.76 L447.86,32.45 L448.56,31.20 L449.41,30.01 L450.39,28.90 L451.52,27.86 L452.77,26.90 L454.15,26.03 L455.64,25.24 L457.25,24.56 L458.96,23.98 L460.78,23.55 L462.74,23.37 L464.81,23.54 L466.88,23.94 L469.00,24.16 L471.12,23.94 L473.19,23.54 L475.26,23.37 L477.22,23.55 L479.04,23.98 L480.75,24.56 L482.36,25.24 L483.85,26.03 L485.23,26.90 L486.48,27.86 L487.61,28.90 L488.59,30.01 L489.44,31.20 L490.14,32.45 L490.69,33.76 L491.08,35.14 L491.32,36.59 L491.40,38.20 L491.32,39.81 L491.08,41.26 L490.69,42.64 L490.14,43.95 L489.44,45.20 L488.59,46.39 L487.61,47.50 L486.48,48.54 L485.23,49.50 L483.84,50.37 L482.34,51.14 L480.72,51.80 L478.97,52.32 L477.11,52.66 L475.16,52.81 L473.18,52.81 L471.17,52.74 L469.00,52.71 L466.83,52.74 L464.82,52.81 L462.84,52.81 L460.89,52.66 L459.03,52.32 L457.28,51.80 L455.66,51.14 L454.16,50.37 L452.77,49.50 L451.52,48.54 L450.39,47.50 L449.41,46.39 L448.56,45.20 L447.86,43.95 L447.31,42.64 L446.92,41.26 L446.68,39.81Z"/></clipPath>
<g filter="url(#bl)"><path d="M446.30,38.20 L446.38,36.56 L446.62,35.08 L447.02,33.68 L447.58,32.34 L448.29,31.06 L449.14,29.86 L450.14,28.72 L451.28,27.66 L452.56,26.68 L453.95,25.79 L455.47,24.99 L457.09,24.29 L458.82,23.70 L460.67,23.27 L462.66,23.08 L464.75,23.26 L466.85,23.67 L469.00,23.89 L471.15,23.67 L473.25,23.26 L475.34,23.08 L477.33,23.27 L479.18,23.70 L480.91,24.29 L482.53,24.99 L484.05,25.79 L485.44,26.68 L486.72,27.66 L487.86,28.72 L488.86,29.86 L489.71,31.06 L490.42,32.34 L490.98,33.68 L491.38,35.08 L491.62,36.56 L491.70,38.20 L491.62,39.84 L491.38,41.32 L490.98,42.72 L490.42,44.06 L489.71,45.34 L488.86,46.54 L487.86,47.68 L486.72,48.74 L485.44,49.72 L484.04,50.60 L482.52,51.39 L480.87,52.06 L479.10,52.59 L477.22,52.93 L475.25,53.09 L473.23,53.09 L471.19,53.02 L469.00,52.99 L466.81,53.02 L464.77,53.09 L462.75,53.09 L460.78,52.93 L458.90,52.59 L457.13,52.06 L455.48,51.39 L453.96,50.60 L452.56,49.72 L451.28,48.74 L450.14,47.68 L449.14,46.54 L448.29,45.34 L447.58,44.06 L447.02,42.72 L446.62,41.32 L446.38,39.84Z" fill="#a86878"/>
<path d="M447.40,38.20 L447.48,36.67 L447.71,35.30 L448.09,33.99 L448.61,32.74 L449.29,31.56 L450.11,30.43 L451.06,29.38 L452.14,28.39 L453.35,27.48 L454.68,26.65 L456.12,25.91 L457.67,25.25 L459.31,24.71 L461.08,24.30 L462.97,24.13 L464.96,24.29 L466.95,24.67 L469.00,24.88 L471.05,24.67 L473.04,24.29 L475.03,24.13 L476.92,24.30 L478.69,24.71 L480.33,25.25 L481.88,25.91 L483.32,26.65 L484.65,27.48 L485.86,28.39 L486.94,29.38 L487.89,30.43 L488.71,31.56 L489.39,32.74 L489.91,33.99 L490.29,35.30 L490.52,36.67 L490.60,38.20 L490.52,39.73 L490.29,41.10 L489.91,42.41 L489.39,43.66 L488.71,44.84 L487.89,45.97 L486.94,47.02 L485.86,48.01 L484.65,48.92 L483.31,49.75 L481.86,50.48 L480.30,51.10 L478.61,51.59 L476.82,51.92 L474.94,52.06 L473.03,52.06 L471.09,52.00 L469.00,51.96 L466.91,52.00 L464.97,52.06 L463.06,52.06 L461.18,51.92 L459.39,51.59 L457.70,51.10 L456.14,50.48 L454.69,49.75 L453.35,48.92 L452.14,48.01 L451.06,47.02 L450.11,45.97 L449.29,44.84 L448.61,43.66 L448.09,42.41 L447.71,41.10 L447.48,39.73Z" fill="url(#rg1)"/></g>
<clipPath id="s1_1"><path d="M499.90,46.00 L499.99,44.18 L500.27,42.55 L500.73,40.99 L501.36,39.51 L502.17,38.10 L503.16,36.76 L504.30,35.51 L505.61,34.33 L507.07,33.25 L508.66,32.26 L510.40,31.38 L512.26,30.61 L514.24,29.95 L516.36,29.47 L518.64,29.27 L521.04,29.46 L523.44,29.91 L525.90,30.16 L528.36,29.91 L530.76,29.46 L533.16,29.27 L535.44,29.47 L537.56,29.95 L539.54,30.61 L541.40,31.38 L543.14,32.26 L544.73,33.25 L546.19,34.33 L547.50,35.51 L548.64,36.76 L549.63,38.10 L550.44,39.51 L551.07,40.99 L551.53,42.55 L551.81,44.18 L551.90,46.00 L551.81,47.82 L551.53,49.45 L551.07,51.01 L550.44,52.49 L549.63,53.90 L548.64,55.24 L547.50,56.49 L546.19,57.67 L544.73,58.75 L543.13,59.73 L541.39,60.60 L539.50,61.34 L537.47,61.93 L535.31,62.31 L533.05,62.48 L530.75,62.49 L528.41,62.41 L525.90,62.37 L523.39,62.41 L521.05,62.49 L518.75,62.48 L516.49,62.31 L514.33,61.93 L512.30,61.34 L510.41,60.60 L508.67,59.73 L507.07,58.75 L505.61,57.67 L504.30,56.49 L503.16,55.24 L502.17,53.90 L501.36,52.49 L500.73,51.01 L500.27,49.45 L499.99,47.82Z"/></clipPath>
<g filter="url(#bl)"><path d="M499.60,46.00 L499.69,44.15 L499.97,42.49 L500.43,40.91 L501.08,39.40 L501.90,37.97 L502.89,36.61 L504.05,35.33 L505.37,34.13 L506.85,33.03 L508.47,32.03 L510.22,31.13 L512.10,30.34 L514.11,29.68 L516.25,29.19 L518.55,28.98 L520.98,29.18 L523.41,29.64 L525.90,29.89 L528.39,29.64 L530.82,29.18 L533.25,28.98 L535.55,29.19 L537.69,29.68 L539.70,30.34 L541.58,31.13 L543.33,32.03 L544.95,33.03 L546.43,34.13 L547.75,35.33 L548.91,36.61 L549.90,37.97 L550.72,39.40 L551.37,40.91 L551.83,42.49 L552.11,44.15 L552.20,46.00 L552.11,47.85 L551.83,49.51 L551.37,51.09 L550.72,52.60 L549.90,54.03 L548.91,55.39 L547.75,56.67 L546.42,57.87 L544.95,58.97 L543.33,59.97 L541.56,60.85 L539.66,61.61 L537.60,62.20 L535.42,62.59 L533.14,62.77 L530.80,62.77 L528.44,62.69 L525.90,62.65 L523.36,62.69 L521.00,62.77 L518.66,62.77 L516.38,62.59 L514.20,62.20 L512.14,61.61 L510.24,60.85 L508.47,59.97 L506.85,58.97 L505.38,57.87 L504.05,56.67 L502.89,55.39 L501.90,54.03 L501.08,52.60 L500.43,51.09 L499.97,49.51 L499.69,47.85Z" fill="#a86878"/>
<path d="M500.70,46.00 L500.79,44.26 L501.06,42.70 L501.50,41.22 L502.12,39.81 L502.90,38.46 L503.86,37.18 L504.97,35.98 L506.23,34.86 L507.64,33.83 L509.19,32.89 L510.87,32.05 L512.68,31.31 L514.60,30.68 L516.66,30.22 L518.86,30.03 L521.19,30.21 L523.51,30.64 L525.90,30.88 L528.29,30.64 L530.61,30.21 L532.94,30.03 L535.14,30.22 L537.20,30.68 L539.12,31.31 L540.93,32.05 L542.61,32.89 L544.16,33.83 L545.57,34.86 L546.83,35.98 L547.94,37.18 L548.90,38.46 L549.68,39.81 L550.30,41.22 L550.74,42.70 L551.01,44.26 L551.10,46.00 L551.01,47.74 L550.74,49.30 L550.30,50.78 L549.68,52.19 L548.90,53.54 L547.94,54.82 L546.83,56.02 L545.57,57.14 L544.15,58.17 L542.60,59.11 L540.91,59.94 L539.08,60.65 L537.11,61.20 L535.02,61.57 L532.83,61.74 L530.60,61.74 L528.34,61.66 L525.90,61.62 L523.46,61.66 L521.20,61.74 L518.97,61.74 L516.78,61.57 L514.69,61.20 L512.72,60.65 L510.89,59.94 L509.20,59.11 L507.65,58.17 L506.23,57.14 L504.97,56.02 L503.86,54.82 L502.90,53.54 L502.12,52.19 L501.50,50.78 L501.06,49.30 L500.79,47.74Z" fill="url(#rg1)"/></g>
<g clip-path="url(#s1_1)"><ellipse cx="490.79999999999995" cy="42.48" rx="24.7" ry="21.12" fill="#f2e6e9" filter="url(#blw)"/></g>
<clipPath id="s1_2"><path d="M446.90,74.90 L446.99,73.08 L447.25,71.45 L447.69,69.89 L448.31,68.41 L449.09,67.00 L450.03,65.66 L451.13,64.41 L452.39,63.23 L453.79,62.15 L455.33,61.16 L456.99,60.28 L458.78,59.51 L460.69,58.85 L462.73,58.37 L464.92,58.17 L467.22,58.36 L469.53,58.81 L471.90,59.06 L474.27,58.81 L476.58,58.36 L478.88,58.17 L481.07,58.37 L483.11,58.85 L485.02,59.51 L486.81,60.28 L488.47,61.16 L490.01,62.15 L491.41,63.23 L492.67,64.41 L493.77,65.66 L494.71,67.00 L495.49,68.41 L496.11,69.89 L496.55,71.45 L496.81,73.08 L496.90,74.90 L496.81,76.72 L496.55,78.35 L496.11,79.91 L495.49,81.39 L494.71,82.80 L493.77,84.14 L492.67,85.39 L491.41,86.57 L490.01,87.65 L488.47,88.63 L486.79,89.50 L484.98,90.24 L483.03,90.83 L480.95,91.21 L478.78,91.38 L476.56,91.39 L474.32,91.31 L471.90,91.27 L469.48,91.31 L467.24,91.39 L465.02,91.38 L462.85,91.21 L460.77,90.83 L458.82,90.24 L457.01,89.50 L455.33,88.63 L453.79,87.65 L452.39,86.57 L451.13,85.39 L450.03,84.14 L449.09,82.80 L448.31,81.39 L447.69,79.91 L447.25,78.35 L446.99,76.72Z"/></clipPath>
<g filter="url(#bl)"><path d="M446.60,74.90 L446.69,73.05 L446.96,71.39 L447.40,69.81 L448.02,68.30 L448.81,66.87 L449.77,65.51 L450.89,64.23 L452.16,63.03 L453.57,61.93 L455.13,60.93 L456.81,60.03 L458.62,59.24 L460.56,58.58 L462.62,58.09 L464.83,57.88 L467.17,58.08 L469.50,58.54 L471.90,58.79 L474.30,58.54 L476.63,58.08 L478.97,57.88 L481.18,58.09 L483.24,58.58 L485.18,59.24 L486.99,60.03 L488.67,60.93 L490.23,61.93 L491.64,63.03 L492.91,64.23 L494.03,65.51 L494.99,66.87 L495.78,68.30 L496.40,69.81 L496.84,71.39 L497.11,73.05 L497.20,74.90 L497.11,76.75 L496.84,78.41 L496.40,79.99 L495.78,81.50 L494.99,82.93 L494.03,84.29 L492.91,85.57 L491.64,86.77 L490.23,87.87 L488.67,88.87 L486.97,89.75 L485.13,90.51 L483.16,91.10 L481.06,91.49 L478.86,91.67 L476.62,91.67 L474.35,91.59 L471.90,91.55 L469.45,91.59 L467.18,91.67 L464.94,91.67 L462.74,91.49 L460.64,91.10 L458.67,90.51 L456.83,89.75 L455.13,88.87 L453.57,87.87 L452.16,86.77 L450.89,85.57 L449.77,84.29 L448.81,82.93 L448.02,81.50 L447.40,79.99 L446.96,78.41 L446.69,76.75Z" fill="#a86878"/>
<path d="M447.70,74.90 L447.79,73.16 L448.04,71.60 L448.47,70.12 L449.06,68.71 L449.82,67.36 L450.73,66.08 L451.80,64.88 L453.01,63.76 L454.37,62.73 L455.86,61.79 L457.47,60.95 L459.20,60.21 L461.05,59.58 L463.02,59.12 L465.14,58.93 L467.37,59.11 L469.61,59.54 L471.90,59.78 L474.19,59.54 L476.43,59.11 L478.66,58.93 L480.78,59.12 L482.75,59.58 L484.60,60.21 L486.33,60.95 L487.94,61.79 L489.43,62.73 L490.79,63.76 L492.00,64.88 L493.07,66.08 L493.98,67.36 L494.74,68.71 L495.33,70.12 L495.76,71.60 L496.01,73.16 L496.10,74.90 L496.01,76.64 L495.76,78.20 L495.33,79.68 L494.74,81.09 L493.98,82.44 L493.07,83.72 L492.00,84.92 L490.79,86.04 L489.43,87.07 L487.94,88.01 L486.31,88.84 L484.56,89.55 L482.67,90.10 L480.66,90.47 L478.56,90.64 L476.41,90.64 L474.24,90.56 L471.90,90.52 L469.56,90.56 L467.39,90.64 L465.24,90.64 L463.14,90.47 L461.13,90.10 L459.24,89.55 L457.49,88.84 L455.86,88.01 L454.37,87.07 L453.01,86.04 L451.80,84.92 L450.73,83.72 L449.82,82.44 L449.06,81.09 L448.47,79.68 L448.04,78.20 L447.79,76.64Z" fill="url(#rg1)"/></g>
<clipPath id="s1_3"><path d="M500.90,81.60 L500.99,79.78 L501.27,78.15 L501.73,76.59 L502.36,75.11 L503.17,73.70 L504.16,72.36 L505.30,71.11 L506.61,69.93 L508.07,68.85 L509.66,67.86 L511.40,66.98 L513.26,66.21 L515.24,65.55 L517.36,65.07 L519.64,64.87 L522.04,65.06 L524.44,65.51 L526.90,65.76 L529.36,65.51 L531.76,65.06 L534.16,64.87 L536.44,65.07 L538.56,65.55 L540.54,66.21 L542.40,66.98 L544.14,67.86 L545.73,68.85 L547.19,69.93 L548.50,71.11 L549.64,72.36 L550.63,73.70 L551.44,75.11 L552.07,76.59 L552.53,78.15 L552.81,79.78 L552.90,81.60 L552.81,83.42 L552.53,85.05 L552.07,86.61 L551.44,88.09 L550.63,89.50 L549.64,90.84 L548.50,92.09 L547.19,93.27 L545.73,94.35 L544.13,95.33 L542.39,96.20 L540.50,96.94 L538.47,97.53 L536.31,97.91 L534.05,98.08 L531.75,98.09 L529.41,98.01 L526.90,97.97 L524.39,98.01 L522.05,98.09 L519.75,98.08 L517.49,97.91 L515.33,97.53 L513.30,96.94 L511.41,96.20 L509.67,95.33 L508.07,94.35 L506.61,93.27 L505.30,92.09 L504.16,90.84 L503.17,89.50 L502.36,88.09 L501.73,86.61 L501.27,85.05 L500.99,83.42Z"/></clipPath>
<g filter="url(#bl)"><path d="M500.60,81.60 L500.69,79.75 L500.97,78.09 L501.43,76.51 L502.08,75.00 L502.90,73.57 L503.89,72.21 L505.05,70.93 L506.37,69.73 L507.85,68.63 L509.47,67.63 L511.22,66.73 L513.10,65.94 L515.11,65.28 L517.25,64.79 L519.55,64.58 L521.98,64.78 L524.41,65.24 L526.90,65.49 L529.39,65.24 L531.82,64.78 L534.25,64.58 L536.55,64.79 L538.69,65.28 L540.70,65.94 L542.58,66.73 L544.33,67.63 L545.95,68.63 L547.43,69.73 L548.75,70.93 L549.91,72.21 L550.90,73.57 L551.72,75.00 L552.37,76.51 L552.83,78.09 L553.11,79.75 L553.20,81.60 L553.11,83.45 L552.83,85.11 L552.37,86.69 L551.72,88.20 L550.90,89.63 L549.91,90.99 L548.75,92.27 L547.42,93.47 L545.95,94.57 L544.33,95.57 L542.56,96.45 L540.66,97.21 L538.60,97.80 L536.42,98.19 L534.14,98.37 L531.80,98.37 L529.44,98.29 L526.90,98.25 L524.36,98.29 L522.00,98.37 L519.66,98.37 L517.38,98.19 L515.20,97.80 L513.14,97.21 L511.24,96.45 L509.47,95.57 L507.85,94.57 L506.38,93.47 L505.05,92.27 L503.89,90.99 L502.90,89.63 L502.08,88.20 L501.43,86.69 L500.97,85.11 L500.69,83.45Z" fill="#a86878"/>
<path d="M501.70,81.60 L501.79,79.86 L502.06,78.30 L502.50,76.82 L503.12,75.41 L503.90,74.06 L504.86,72.78 L505.97,71.58 L507.23,70.46 L508.64,69.43 L510.19,68.49 L511.87,67.65 L513.68,66.91 L515.60,66.28 L517.66,65.82 L519.86,65.63 L522.19,65.81 L524.51,66.24 L526.90,66.48 L529.29,66.24 L531.61,65.81 L533.94,65.63 L536.14,65.82 L538.20,66.28 L540.12,66.91 L541.93,67.65 L543.61,68.49 L545.16,69.43 L546.57,70.46 L547.83,71.58 L548.94,72.78 L549.90,74.06 L550.68,75.41 L551.30,76.82 L551.74,78.30 L552.01,79.86 L552.10,81.60 L552.01,83.34 L551.74,84.90 L551.30,86.38 L550.68,87.79 L549.90,89.14 L548.94,90.42 L547.83,91.62 L546.57,92.74 L545.15,93.77 L543.60,94.71 L541.91,95.54 L540.08,96.25 L538.11,96.80 L536.02,97.17 L533.83,97.34 L531.60,97.34 L529.34,97.26 L526.90,97.22 L524.46,97.26 L522.20,97.34 L519.97,97.34 L517.78,97.17 L515.69,96.80 L513.72,96.25 L511.89,95.54 L510.20,94.71 L508.65,93.77 L507.23,92.74 L505.97,91.62 L504.86,90.42 L503.90,89.14 L503.12,87.79 L502.50,86.38 L502.06,84.90 L501.79,83.34Z" fill="url(#rg1)"/></g>
<g clip-path="url(#s1_3)"><ellipse cx="485.55999999999995" cy="78.08" rx="24.7" ry="21.12" fill="#f2e6e9" filter="url(#blw)"/></g>
<clipPath id="s1_4"><path d="M468.10,110.60 L468.19,108.99 L468.45,107.54 L468.89,106.16 L469.51,104.85 L470.29,103.60 L471.23,102.41 L472.33,101.30 L473.59,100.26 L474.99,99.30 L476.53,98.43 L478.19,97.64 L479.98,96.96 L481.89,96.38 L483.93,95.95 L486.12,95.77 L488.42,95.94 L490.73,96.34 L493.10,96.56 L495.47,96.34 L497.78,95.94 L500.08,95.77 L502.27,95.95 L504.31,96.38 L506.22,96.96 L508.01,97.64 L509.67,98.43 L511.21,99.30 L512.61,100.26 L513.87,101.30 L514.97,102.41 L515.91,103.60 L516.69,104.85 L517.31,106.16 L517.75,107.54 L518.01,108.99 L518.10,110.60 L518.01,112.21 L517.75,113.66 L517.31,115.04 L516.69,116.35 L515.91,117.60 L514.97,118.79 L513.87,119.90 L512.61,120.94 L511.21,121.90 L509.67,122.77 L507.99,123.54 L506.18,124.20 L504.23,124.72 L502.15,125.06 L499.98,125.21 L497.76,125.21 L495.52,125.14 L493.10,125.11 L490.68,125.14 L488.44,125.21 L486.22,125.21 L484.05,125.06 L481.97,124.72 L480.02,124.20 L478.21,123.54 L476.53,122.77 L474.99,121.90 L473.59,120.94 L472.33,119.90 L471.23,118.79 L470.29,117.60 L469.51,116.35 L468.89,115.04 L468.45,113.66 L468.19,112.21Z"/></clipPath>
<g filter="url(#bl)"><path d="M467.80,110.60 L467.89,108.96 L468.16,107.48 L468.60,106.08 L469.22,104.74 L470.01,103.46 L470.97,102.26 L472.09,101.12 L473.36,100.06 L474.77,99.08 L476.33,98.19 L478.01,97.39 L479.82,96.69 L481.76,96.10 L483.82,95.67 L486.03,95.48 L488.37,95.66 L490.70,96.07 L493.10,96.29 L495.50,96.07 L497.83,95.66 L500.17,95.48 L502.38,95.67 L504.44,96.10 L506.38,96.69 L508.19,97.39 L509.87,98.19 L511.43,99.08 L512.84,100.06 L514.11,101.12 L515.23,102.26 L516.19,103.46 L516.98,104.74 L517.60,106.08 L518.04,107.48 L518.31,108.96 L518.40,110.60 L518.31,112.24 L518.04,113.72 L517.60,115.12 L516.98,116.46 L516.19,117.74 L515.23,118.94 L514.11,120.08 L512.84,121.14 L511.43,122.12 L509.87,123.00 L508.17,123.79 L506.33,124.46 L504.36,124.99 L502.26,125.33 L500.06,125.49 L497.82,125.49 L495.55,125.42 L493.10,125.39 L490.65,125.42 L488.38,125.49 L486.14,125.49 L483.94,125.33 L481.84,124.99 L479.87,124.46 L478.03,123.79 L476.33,123.00 L474.77,122.12 L473.36,121.14 L472.09,120.08 L470.97,118.94 L470.01,117.74 L469.22,116.46 L468.60,115.12 L468.16,113.72 L467.89,112.24Z" fill="#a86878"/>
<path d="M468.90,110.60 L468.99,109.07 L469.24,107.70 L469.67,106.39 L470.26,105.14 L471.02,103.96 L471.93,102.83 L473.00,101.78 L474.21,100.79 L475.57,99.88 L477.06,99.05 L478.67,98.31 L480.40,97.65 L482.25,97.11 L484.22,96.70 L486.34,96.53 L488.57,96.69 L490.81,97.07 L493.10,97.28 L495.39,97.07 L497.63,96.69 L499.86,96.53 L501.98,96.70 L503.95,97.11 L505.80,97.65 L507.53,98.31 L509.14,99.05 L510.63,99.88 L511.99,100.79 L513.20,101.78 L514.27,102.83 L515.18,103.96 L515.94,105.14 L516.53,106.39 L516.96,107.70 L517.21,109.07 L517.30,110.60 L517.21,112.13 L516.96,113.50 L516.53,114.81 L515.94,116.06 L515.18,117.24 L514.27,118.37 L513.20,119.42 L511.99,120.41 L510.63,121.32 L509.14,122.15 L507.51,122.88 L505.76,123.50 L503.87,123.99 L501.86,124.32 L499.76,124.46 L497.61,124.46 L495.44,124.40 L493.10,124.36 L490.76,124.40 L488.59,124.46 L486.44,124.46 L484.34,124.32 L482.33,123.99 L480.44,123.50 L478.69,122.88 L477.06,122.15 L475.57,121.32 L474.21,120.41 L473.00,119.42 L471.93,118.37 L471.02,117.24 L470.26,116.06 L469.67,114.81 L469.24,113.50 L468.99,112.13Z" fill="url(#rg1)"/></g>
<g clip-path="url(#s1_4)"><ellipse cx="458.85" cy="107.47999999999999" rx="23.75" ry="18.72" fill="#f2e6e9" filter="url(#blw)"/></g>
</g>
<text x="454.7" y="128.3" font-size="13" font-weight="bold" text-anchor="start" fill="#fff" >Pyridaben</text>
<clipPath id="pc2"><rect x="330.8" y="135.7" width="111.2" height="111.7"/></clipPath>
<radialGradient id="rg2"><stop offset="0" stop-color="#aa2240"/><stop offset="0.78" stop-color="#aa2240"/><stop offset="1" stop-color="#b0384e"/></radialGradient>
<g clip-path="url(#pc2)">
<rect x="330.8" y="135.7" width="111.2" height="111.7" fill="url(#grid)" filter="url(#bgb)"/>
<clipPath id="s2_0"><path d="M337.40,152.20 L337.47,150.59 L337.68,149.14 L338.02,147.76 L338.50,146.45 L339.11,145.20 L339.84,144.01 L340.70,142.90 L341.68,141.86 L342.77,140.90 L343.97,140.03 L345.27,139.24 L346.67,138.56 L348.16,137.98 L349.75,137.55 L351.45,137.37 L353.25,137.54 L355.05,137.94 L356.90,138.16 L358.75,137.94 L360.55,137.54 L362.35,137.37 L364.05,137.55 L365.64,137.98 L367.13,138.56 L368.53,139.24 L369.83,140.03 L371.03,140.90 L372.12,141.86 L373.10,142.90 L373.96,144.01 L374.69,145.20 L375.30,146.45 L375.78,147.76 L376.12,149.14 L376.33,150.59 L376.40,152.20 L376.33,153.81 L376.12,155.26 L375.78,156.64 L375.30,157.95 L374.69,159.20 L373.96,160.39 L373.10,161.50 L372.12,162.54 L371.03,163.50 L369.82,164.37 L368.51,165.14 L367.10,165.80 L365.58,166.32 L363.96,166.66 L362.26,166.81 L360.54,166.81 L358.79,166.74 L356.90,166.71 L355.01,166.74 L353.26,166.81 L351.54,166.81 L349.84,166.66 L348.22,166.32 L346.70,165.80 L345.29,165.14 L343.98,164.37 L342.77,163.50 L341.68,162.54 L340.70,161.50 L339.84,160.39 L339.11,159.20 L338.50,157.95 L338.02,156.64 L337.68,155.26 L337.47,153.81Z"/></clipPath>
<g filter="url(#bl)"><path d="M337.10,152.20 L337.17,150.56 L337.38,149.08 L337.73,147.68 L338.21,146.34 L338.83,145.06 L339.58,143.86 L340.45,142.72 L341.45,141.66 L342.56,140.68 L343.77,139.79 L345.09,138.99 L346.51,138.29 L348.02,137.70 L349.64,137.27 L351.37,137.08 L353.20,137.26 L355.02,137.67 L356.90,137.89 L358.78,137.67 L360.60,137.26 L362.43,137.08 L364.16,137.27 L365.78,137.70 L367.29,138.29 L368.71,138.99 L370.03,139.79 L371.24,140.68 L372.35,141.66 L373.35,142.72 L374.22,143.86 L374.97,145.06 L375.59,146.34 L376.07,147.68 L376.42,149.08 L376.63,150.56 L376.70,152.20 L376.63,153.84 L376.42,155.32 L376.07,156.72 L375.59,158.06 L374.97,159.34 L374.22,160.54 L373.35,161.68 L372.35,162.74 L371.24,163.72 L370.02,164.60 L368.69,165.39 L367.26,166.06 L365.71,166.59 L364.07,166.93 L362.35,167.09 L360.59,167.09 L358.81,167.02 L356.90,166.99 L354.99,167.02 L353.21,167.09 L351.45,167.09 L349.73,166.93 L348.09,166.59 L346.54,166.06 L345.11,165.39 L343.78,164.60 L342.56,163.72 L341.45,162.74 L340.45,161.68 L339.58,160.54 L338.83,159.34 L338.21,158.06 L337.73,156.72 L337.38,155.32 L337.17,153.84Z" fill="#a86878"/>
<path d="M338.20,152.20 L338.27,150.67 L338.46,149.30 L338.79,147.99 L339.25,146.74 L339.84,145.56 L340.54,144.43 L341.37,143.38 L342.31,142.39 L343.35,141.48 L344.50,140.65 L345.75,139.91 L347.09,139.25 L348.51,138.71 L350.04,138.30 L351.68,138.13 L353.40,138.29 L355.13,138.67 L356.90,138.88 L358.67,138.67 L360.40,138.29 L362.12,138.13 L363.76,138.30 L365.29,138.71 L366.71,139.25 L368.05,139.91 L369.30,140.65 L370.45,141.48 L371.49,142.39 L372.43,143.38 L373.26,144.43 L373.96,145.56 L374.55,146.74 L375.01,147.99 L375.34,149.30 L375.53,150.67 L375.60,152.20 L375.53,153.73 L375.34,155.10 L375.01,156.41 L374.55,157.66 L373.96,158.84 L373.26,159.97 L372.43,161.02 L371.49,162.01 L370.45,162.92 L369.29,163.75 L368.04,164.48 L366.68,165.10 L365.22,165.59 L363.67,165.92 L362.04,166.06 L360.39,166.06 L358.71,166.00 L356.90,165.96 L355.09,166.00 L353.41,166.06 L351.76,166.06 L350.13,165.92 L348.58,165.59 L347.12,165.10 L345.76,164.48 L344.51,163.75 L343.35,162.92 L342.31,162.01 L341.37,161.02 L340.54,159.97 L339.84,158.84 L339.25,157.66 L338.79,156.41 L338.46,155.10 L338.27,153.73Z" fill="url(#rg2)"/></g>
<g clip-path="url(#s2_0)"><ellipse cx="333.695" cy="149.07999999999998" rx="18.525" ry="18.72" fill="#f2e6e9" filter="url(#blw)"/></g>
<clipPath id="s2_1"><path d="M381.90,153.20 L382.00,151.38 L382.31,149.75 L382.82,148.19 L383.53,146.71 L384.44,145.30 L385.53,143.96 L386.81,142.71 L388.27,141.53 L389.89,140.45 L391.68,139.46 L393.61,138.58 L395.68,137.81 L397.90,137.15 L400.26,136.67 L402.80,136.47 L405.48,136.66 L408.15,137.11 L410.90,137.36 L413.65,137.11 L416.32,136.66 L419.00,136.47 L421.54,136.67 L423.90,137.15 L426.12,137.81 L428.19,138.58 L430.12,139.46 L431.91,140.45 L433.53,141.53 L434.99,142.71 L436.27,143.96 L437.36,145.30 L438.27,146.71 L438.98,148.19 L439.49,149.75 L439.80,151.38 L439.90,153.20 L439.80,155.02 L439.49,156.65 L438.98,158.21 L438.27,159.69 L437.36,161.10 L436.27,162.44 L434.99,163.69 L433.53,164.87 L431.91,165.95 L430.12,166.93 L428.17,167.80 L426.07,168.54 L423.81,169.13 L421.40,169.51 L418.88,169.68 L416.31,169.69 L413.70,169.61 L410.90,169.57 L408.10,169.61 L405.49,169.69 L402.92,169.68 L400.40,169.51 L397.99,169.13 L395.73,168.54 L393.63,167.80 L391.68,166.93 L389.89,165.95 L388.27,164.87 L386.81,163.69 L385.53,162.44 L384.44,161.10 L383.53,159.69 L382.82,158.21 L382.31,156.65 L382.00,155.02Z"/></clipPath>
<g filter="url(#bl)"><path d="M381.60,153.20 L381.70,151.35 L382.01,149.69 L382.53,148.11 L383.25,146.60 L384.16,145.17 L385.27,143.81 L386.56,142.53 L388.03,141.33 L389.67,140.23 L391.48,139.23 L393.43,138.33 L395.53,137.54 L397.76,136.88 L400.15,136.39 L402.72,136.18 L405.42,136.38 L408.12,136.84 L410.90,137.09 L413.68,136.84 L416.38,136.38 L419.08,136.18 L421.65,136.39 L424.04,136.88 L426.27,137.54 L428.37,138.33 L430.32,139.23 L432.13,140.23 L433.77,141.33 L435.24,142.53 L436.53,143.81 L437.64,145.17 L438.55,146.60 L439.27,148.11 L439.79,149.69 L440.10,151.35 L440.20,153.20 L440.10,155.05 L439.79,156.71 L439.27,158.29 L438.55,159.80 L437.64,161.23 L436.53,162.59 L435.24,163.87 L433.77,165.07 L432.12,166.17 L430.32,167.17 L428.35,168.05 L426.22,168.81 L423.94,169.40 L421.50,169.79 L418.96,169.97 L416.36,169.97 L413.73,169.89 L410.90,169.85 L408.07,169.89 L405.44,169.97 L402.84,169.97 L400.30,169.79 L397.86,169.40 L395.58,168.81 L393.45,168.05 L391.48,167.17 L389.68,166.17 L388.03,165.07 L386.56,163.87 L385.27,162.59 L384.16,161.23 L383.25,159.80 L382.53,158.29 L382.01,156.71 L381.70,155.05Z" fill="#a86878"/>
<path d="M382.70,153.20 L382.80,151.46 L383.10,149.90 L383.59,148.42 L384.29,147.01 L385.17,145.66 L386.23,144.38 L387.48,143.18 L388.89,142.06 L390.47,141.03 L392.21,140.09 L394.09,139.25 L396.10,138.51 L398.25,137.88 L400.55,137.42 L403.02,137.23 L405.63,137.41 L408.23,137.84 L410.90,138.08 L413.57,137.84 L416.17,137.41 L418.78,137.23 L421.25,137.42 L423.55,137.88 L425.70,138.51 L427.71,139.25 L429.59,140.09 L431.33,141.03 L432.91,142.06 L434.32,143.18 L435.57,144.38 L436.63,145.66 L437.51,147.01 L438.21,148.42 L438.70,149.90 L439.00,151.46 L439.10,153.20 L439.00,154.94 L438.70,156.50 L438.21,157.98 L437.51,159.39 L436.63,160.74 L435.57,162.02 L434.32,163.22 L432.91,164.34 L431.33,165.37 L429.59,166.31 L427.70,167.14 L425.65,167.85 L423.45,168.40 L421.11,168.77 L418.66,168.94 L416.16,168.94 L413.63,168.86 L410.90,168.82 L408.17,168.86 L405.64,168.94 L403.14,168.94 L400.69,168.77 L398.35,168.40 L396.15,167.85 L394.10,167.14 L392.21,166.31 L390.47,165.37 L388.89,164.34 L387.48,163.22 L386.23,162.02 L385.17,160.74 L384.29,159.39 L383.59,157.98 L383.10,156.50 L382.80,154.94Z" fill="url(#rg2)"/></g>
<g clip-path="url(#s2_1)"><ellipse cx="383.35" cy="149.67999999999998" rx="27.549999999999997" ry="21.12" fill="#f2e6e9" filter="url(#blw)"/></g>
<clipPath id="s2_2"><path d="M331.80,186.00 L331.88,184.18 L332.11,182.55 L332.50,180.99 L333.05,179.51 L333.74,178.10 L334.58,176.76 L335.56,175.51 L336.67,174.33 L337.92,173.25 L339.28,172.26 L340.76,171.38 L342.35,170.61 L344.05,169.95 L345.86,169.47 L347.80,169.27 L349.85,169.46 L351.90,169.91 L354.00,170.16 L356.10,169.91 L358.15,169.46 L360.20,169.27 L362.14,169.47 L363.95,169.95 L365.65,170.61 L367.24,171.38 L368.72,172.26 L370.08,173.25 L371.33,174.33 L372.44,175.51 L373.42,176.76 L374.26,178.10 L374.95,179.51 L375.50,180.99 L375.89,182.55 L376.12,184.18 L376.20,186.00 L376.12,187.82 L375.89,189.45 L375.50,191.01 L374.95,192.49 L374.26,193.90 L373.42,195.24 L372.44,196.49 L371.33,197.67 L370.08,198.75 L368.71,199.73 L367.22,200.60 L365.61,201.34 L363.88,201.93 L362.04,202.31 L360.11,202.48 L358.14,202.49 L356.15,202.41 L354.00,202.37 L351.85,202.41 L349.86,202.49 L347.89,202.48 L345.96,202.31 L344.12,201.93 L342.39,201.34 L340.78,200.60 L339.29,199.73 L337.92,198.75 L336.67,197.67 L335.56,196.49 L334.58,195.24 L333.74,193.90 L333.05,192.49 L332.50,191.01 L332.11,189.45 L331.88,187.82Z"/></clipPath>
<g filter="url(#bl)"><path d="M331.50,186.00 L331.58,184.15 L331.82,182.49 L332.21,180.91 L332.76,179.40 L333.47,177.97 L334.32,176.61 L335.31,175.33 L336.44,174.13 L337.70,173.03 L339.08,172.03 L340.58,171.13 L342.19,170.34 L343.91,169.68 L345.75,169.19 L347.72,168.98 L349.79,169.18 L351.87,169.64 L354.00,169.89 L356.13,169.64 L358.21,169.18 L360.28,168.98 L362.25,169.19 L364.09,169.68 L365.81,170.34 L367.42,171.13 L368.92,172.03 L370.30,173.03 L371.56,174.13 L372.69,175.33 L373.68,176.61 L374.53,177.97 L375.24,179.40 L375.79,180.91 L376.18,182.49 L376.42,184.15 L376.50,186.00 L376.42,187.85 L376.18,189.51 L375.79,191.09 L375.24,192.60 L374.53,194.03 L373.68,195.39 L372.69,196.67 L371.56,197.87 L370.30,198.97 L368.91,199.97 L367.40,200.85 L365.77,201.61 L364.01,202.20 L362.14,202.59 L360.19,202.77 L358.19,202.77 L356.18,202.69 L354.00,202.65 L351.82,202.69 L349.81,202.77 L347.81,202.77 L345.86,202.59 L343.99,202.20 L342.23,201.61 L340.60,200.85 L339.09,199.97 L337.70,198.97 L336.44,197.87 L335.31,196.67 L334.32,195.39 L333.47,194.03 L332.76,192.60 L332.21,191.09 L331.82,189.51 L331.58,187.85Z" fill="#a86878"/>
<path d="M332.60,186.00 L332.68,184.26 L332.90,182.70 L333.28,181.22 L333.80,179.81 L334.47,178.46 L335.28,177.18 L336.22,175.98 L337.30,174.86 L338.50,173.83 L339.81,172.89 L341.24,172.05 L342.77,171.31 L344.40,170.68 L346.15,170.22 L348.02,170.03 L350.00,170.21 L351.97,170.64 L354.00,170.88 L356.03,170.64 L358.00,170.21 L359.98,170.03 L361.85,170.22 L363.60,170.68 L365.23,171.31 L366.76,172.05 L368.19,172.89 L369.50,173.83 L370.70,174.86 L371.78,175.98 L372.72,177.18 L373.53,178.46 L374.20,179.81 L374.72,181.22 L375.10,182.70 L375.32,184.26 L375.40,186.00 L375.32,187.74 L375.10,189.30 L374.72,190.78 L374.20,192.19 L373.53,193.54 L372.72,194.82 L371.78,196.02 L370.70,197.14 L369.50,198.17 L368.18,199.11 L366.75,199.94 L365.19,200.65 L363.52,201.20 L361.75,201.57 L359.89,201.74 L357.99,201.74 L356.07,201.66 L354.00,201.62 L351.93,201.66 L350.01,201.74 L348.11,201.74 L346.25,201.57 L344.48,201.20 L342.81,200.65 L341.25,199.94 L339.82,199.11 L338.50,198.17 L337.30,197.14 L336.22,196.02 L335.28,194.82 L334.47,193.54 L333.80,192.19 L333.28,190.78 L332.90,189.30 L332.68,187.74Z" fill="url(#rg2)"/></g>
<g clip-path="url(#s2_2)"><ellipse cx="327.582" cy="182.48" rx="21.09" ry="21.12" fill="#f2e6e9" filter="url(#blw)"/></g>
<clipPath id="s2_3"><path d="M384.90,193.70 L385.00,191.69 L385.28,189.87 L385.76,188.15 L386.42,186.51 L387.26,184.95 L388.28,183.47 L389.47,182.07 L390.83,180.77 L392.34,179.57 L394.00,178.48 L395.80,177.50 L397.73,176.64 L399.79,175.92 L402.00,175.38 L404.36,175.16 L406.85,175.37 L409.34,175.88 L411.90,176.15 L414.46,175.88 L416.95,175.37 L419.44,175.16 L421.80,175.38 L424.01,175.92 L426.07,176.64 L428.00,177.50 L429.80,178.48 L431.46,179.57 L432.97,180.77 L434.33,182.07 L435.52,183.47 L436.54,184.95 L437.38,186.51 L438.04,188.15 L438.52,189.87 L438.80,191.69 L438.90,193.70 L438.80,195.71 L438.52,197.53 L438.04,199.25 L437.38,200.89 L436.54,202.45 L435.52,203.93 L434.33,205.33 L432.97,206.63 L431.46,207.83 L429.79,208.91 L427.98,209.88 L426.02,210.70 L423.92,211.34 L421.67,211.77 L419.33,211.96 L416.93,211.96 L414.51,211.88 L411.90,211.83 L409.29,211.88 L406.87,211.96 L404.47,211.96 L402.13,211.77 L399.88,211.34 L397.78,210.70 L395.82,209.88 L394.01,208.91 L392.34,207.83 L390.83,206.63 L389.47,205.33 L388.28,203.93 L387.26,202.45 L386.42,200.89 L385.76,199.25 L385.28,197.53 L385.00,195.71Z"/></clipPath>
<g filter="url(#bl)"><path d="M384.60,193.70 L384.70,191.65 L384.99,189.82 L385.47,188.07 L386.13,186.40 L386.99,184.81 L388.02,183.31 L389.22,181.89 L390.59,180.57 L392.12,179.36 L393.80,178.25 L395.62,177.25 L397.58,176.38 L399.66,175.65 L401.88,175.10 L404.28,174.87 L406.79,175.09 L409.31,175.60 L411.90,175.88 L414.49,175.60 L417.01,175.09 L419.52,174.87 L421.92,175.10 L424.14,175.65 L426.22,176.38 L428.18,177.25 L430.00,178.25 L431.68,179.36 L433.21,180.57 L434.58,181.89 L435.78,183.31 L436.81,184.81 L437.67,186.40 L438.33,188.07 L438.81,189.82 L439.10,191.65 L439.20,193.70 L439.10,195.75 L438.81,197.58 L438.33,199.33 L437.67,201.00 L436.81,202.59 L435.78,204.09 L434.58,205.51 L433.21,206.83 L431.68,208.04 L429.99,209.15 L428.16,210.13 L426.18,210.96 L424.05,211.62 L421.78,212.05 L419.41,212.24 L416.99,212.25 L414.54,212.16 L411.90,212.11 L409.26,212.16 L406.81,212.25 L404.39,212.24 L402.02,212.05 L399.75,211.62 L397.62,210.96 L395.64,210.13 L393.81,209.15 L392.12,208.04 L390.59,206.83 L389.22,205.51 L388.02,204.09 L386.99,202.59 L386.13,201.00 L385.47,199.33 L384.99,197.58 L384.70,195.75Z" fill="#a86878"/>
<path d="M385.70,193.70 L385.79,191.77 L386.07,190.03 L386.53,188.38 L387.17,186.81 L387.99,185.31 L388.98,183.89 L390.14,182.55 L391.45,181.30 L392.92,180.15 L394.53,179.11 L396.28,178.17 L398.15,177.34 L400.15,176.65 L402.29,176.14 L404.58,175.92 L407.00,176.13 L409.42,176.61 L411.90,176.87 L414.38,176.61 L416.80,176.13 L419.22,175.92 L421.51,176.14 L423.65,176.65 L425.65,177.34 L427.52,178.17 L429.27,179.11 L430.88,180.15 L432.35,181.30 L433.66,182.55 L434.82,183.89 L435.81,185.31 L436.63,186.81 L437.27,188.38 L437.73,190.03 L438.01,191.77 L438.10,193.70 L438.01,195.63 L437.73,197.37 L437.27,199.02 L436.63,200.59 L435.81,202.09 L434.82,203.51 L433.66,204.85 L432.35,206.10 L430.88,207.25 L429.26,208.29 L427.50,209.22 L425.60,210.00 L423.56,210.62 L421.38,211.03 L419.11,211.21 L416.78,211.22 L414.43,211.14 L411.90,211.09 L409.37,211.14 L407.02,211.22 L404.69,211.21 L402.42,211.03 L400.24,210.62 L398.20,210.00 L396.30,209.22 L394.54,208.29 L392.92,207.25 L391.45,206.10 L390.14,204.85 L388.98,203.51 L387.99,202.09 L387.17,200.59 L386.53,199.02 L386.07,197.37 L385.79,195.63Z" fill="url(#rg2)"/></g>
<g clip-path="url(#s2_3)"><ellipse cx="380.84999999999997" cy="189.79999999999998" rx="25.65" ry="23.4" fill="#f2e6e9" filter="url(#blw)"/></g>
<clipPath id="s2_4"><path d="M332.00,222.60 L332.08,220.78 L332.34,219.15 L332.76,217.59 L333.35,216.11 L334.10,214.70 L335.01,213.36 L336.06,212.11 L337.27,210.93 L338.61,209.85 L340.09,208.86 L341.69,207.98 L343.41,207.21 L345.24,206.55 L347.20,206.07 L349.30,205.87 L351.51,206.06 L353.73,206.51 L356.00,206.76 L358.27,206.51 L360.49,206.06 L362.70,205.87 L364.80,206.07 L366.76,206.55 L368.59,207.21 L370.31,207.98 L371.91,208.86 L373.39,209.85 L374.73,210.93 L375.94,212.11 L376.99,213.36 L377.90,214.70 L378.65,216.11 L379.24,217.59 L379.66,219.15 L379.92,220.78 L380.00,222.60 L379.92,224.42 L379.66,226.05 L379.24,227.61 L378.65,229.09 L377.90,230.50 L376.99,231.84 L375.94,233.09 L374.73,234.27 L373.38,235.35 L371.91,236.33 L370.29,237.20 L368.55,237.94 L366.68,238.53 L364.69,238.91 L362.60,239.08 L360.47,239.09 L358.32,239.01 L356.00,238.97 L353.68,239.01 L351.53,239.09 L349.40,239.08 L347.31,238.91 L345.32,238.53 L343.45,237.94 L341.71,237.20 L340.09,236.33 L338.62,235.35 L337.27,234.27 L336.06,233.09 L335.01,231.84 L334.10,230.50 L333.35,229.09 L332.76,227.61 L332.34,226.05 L332.08,224.42Z"/></clipPath>
<g filter="url(#bl)"><path d="M331.70,222.60 L331.79,220.75 L332.04,219.09 L332.47,217.51 L333.07,216.00 L333.83,214.57 L334.74,213.21 L335.82,211.93 L337.04,210.73 L338.40,209.63 L339.89,208.63 L341.51,207.73 L343.25,206.94 L345.10,206.28 L347.09,205.79 L349.21,205.58 L351.45,205.78 L353.70,206.24 L356.00,206.49 L358.30,206.24 L360.55,205.78 L362.79,205.58 L364.91,205.79 L366.90,206.28 L368.75,206.94 L370.49,207.73 L372.11,208.63 L373.60,209.63 L374.96,210.73 L376.18,211.93 L377.26,213.21 L378.17,214.57 L378.93,216.00 L379.53,217.51 L379.96,219.09 L380.21,220.75 L380.30,222.60 L380.21,224.45 L379.96,226.11 L379.53,227.69 L378.93,229.20 L378.17,230.63 L377.26,231.99 L376.18,233.27 L374.96,234.47 L373.60,235.57 L372.10,236.57 L370.47,237.45 L368.71,238.21 L366.81,238.80 L364.80,239.19 L362.69,239.37 L360.53,239.37 L358.35,239.29 L356.00,239.25 L353.65,239.29 L351.47,239.37 L349.31,239.37 L347.20,239.19 L345.19,238.80 L343.29,238.21 L341.53,237.45 L339.90,236.57 L338.40,235.57 L337.04,234.47 L335.82,233.27 L334.74,231.99 L333.83,230.63 L333.07,229.20 L332.47,227.69 L332.04,226.11 L331.79,224.45Z" fill="#a86878"/>
<path d="M332.80,222.60 L332.88,220.86 L333.13,219.30 L333.54,217.82 L334.10,216.41 L334.83,215.06 L335.71,213.78 L336.73,212.58 L337.89,211.46 L339.19,210.43 L340.62,209.49 L342.17,208.65 L343.83,207.91 L345.60,207.28 L347.49,206.82 L349.52,206.63 L351.66,206.81 L353.80,207.24 L356.00,207.48 L358.20,207.24 L360.34,206.81 L362.48,206.63 L364.51,206.82 L366.40,207.28 L368.17,207.91 L369.83,208.65 L371.38,209.49 L372.81,210.43 L374.11,211.46 L375.27,212.58 L376.29,213.78 L377.17,215.06 L377.90,216.41 L378.46,217.82 L378.87,219.30 L379.12,220.86 L379.20,222.60 L379.12,224.34 L378.87,225.90 L378.46,227.38 L377.90,228.79 L377.17,230.14 L376.29,231.42 L375.27,232.62 L374.11,233.74 L372.81,234.77 L371.37,235.71 L369.82,236.54 L368.13,237.25 L366.32,237.80 L364.40,238.17 L362.38,238.34 L360.32,238.34 L358.24,238.26 L356.00,238.22 L353.76,238.26 L351.68,238.34 L349.62,238.34 L347.60,238.17 L345.68,237.80 L343.87,237.25 L342.18,236.54 L340.63,235.71 L339.19,234.77 L337.89,233.74 L336.73,232.62 L335.71,231.42 L334.83,230.14 L334.10,228.79 L333.54,227.38 L333.13,225.90 L332.88,224.34Z" fill="url(#rg2)"/></g>
<g clip-path="url(#s2_4)"><ellipse cx="327.44" cy="219.07999999999998" rx="22.799999999999997" ry="21.12" fill="#f2e6e9" filter="url(#blw)"/></g>
<clipPath id="s2_5"><path d="M389.80,231.30 L389.89,229.78 L390.15,228.42 L390.59,227.12 L391.21,225.88 L391.99,224.70 L392.93,223.59 L394.03,222.54 L395.29,221.56 L396.69,220.65 L398.23,219.83 L399.89,219.09 L401.68,218.44 L403.59,217.90 L405.63,217.49 L407.82,217.32 L410.12,217.48 L412.43,217.86 L414.80,218.07 L417.17,217.86 L419.48,217.48 L421.78,217.32 L423.97,217.49 L426.01,217.90 L427.92,218.44 L429.71,219.09 L431.37,219.83 L432.91,220.65 L434.31,221.56 L435.57,222.54 L436.67,223.59 L437.61,224.70 L438.39,225.88 L439.01,227.12 L439.45,228.42 L439.71,229.78 L439.80,231.30 L439.71,232.82 L439.45,234.18 L439.01,235.48 L438.39,236.72 L437.61,237.90 L436.67,239.01 L435.57,240.06 L434.31,241.04 L432.91,241.95 L431.37,242.77 L429.69,243.50 L427.88,244.12 L425.93,244.60 L423.85,244.92 L421.68,245.07 L419.46,245.07 L417.22,245.01 L414.80,244.97 L412.38,245.01 L410.14,245.07 L407.92,245.07 L405.75,244.92 L403.67,244.60 L401.72,244.12 L399.91,243.50 L398.23,242.77 L396.69,241.95 L395.29,241.04 L394.03,240.06 L392.93,239.01 L391.99,237.90 L391.21,236.72 L390.59,235.48 L390.15,234.18 L389.89,232.82Z"/></clipPath>
<g filter="url(#bl)"><path d="M389.50,231.30 L389.59,229.75 L389.86,228.36 L390.30,227.03 L390.92,225.77 L391.71,224.57 L392.67,223.43 L393.79,222.36 L395.06,221.36 L396.47,220.43 L398.03,219.59 L399.71,218.84 L401.52,218.18 L403.46,217.62 L405.52,217.21 L407.73,217.04 L410.07,217.20 L412.40,217.59 L414.80,217.80 L417.20,217.59 L419.53,217.20 L421.87,217.04 L424.08,217.21 L426.14,217.62 L428.08,218.18 L429.89,218.84 L431.57,219.59 L433.13,220.43 L434.54,221.36 L435.81,222.36 L436.93,223.43 L437.89,224.57 L438.68,225.77 L439.30,227.03 L439.74,228.36 L440.01,229.75 L440.10,231.30 L440.01,232.85 L439.74,234.24 L439.30,235.57 L438.68,236.83 L437.89,238.03 L436.93,239.17 L435.81,240.24 L434.54,241.24 L433.13,242.17 L431.57,243.00 L429.87,243.75 L428.03,244.38 L426.06,244.87 L423.96,245.20 L421.76,245.35 L419.52,245.35 L417.25,245.29 L414.80,245.25 L412.35,245.29 L410.08,245.35 L407.84,245.35 L405.64,245.20 L403.54,244.87 L401.57,244.38 L399.73,243.75 L398.03,243.00 L396.47,242.17 L395.06,241.24 L393.79,240.24 L392.67,239.17 L391.71,238.03 L390.92,236.83 L390.30,235.57 L389.86,234.24 L389.59,232.85Z" fill="#a86878"/>
<path d="M390.60,231.30 L390.69,229.86 L390.94,228.57 L391.37,227.35 L391.96,226.18 L392.72,225.06 L393.63,224.01 L394.70,223.01 L395.91,222.09 L397.27,221.23 L398.76,220.45 L400.37,219.75 L402.10,219.14 L403.95,218.63 L405.92,218.24 L408.04,218.08 L410.27,218.24 L412.51,218.59 L414.80,218.79 L417.09,218.59 L419.33,218.24 L421.56,218.08 L423.68,218.24 L425.65,218.63 L427.50,219.14 L429.23,219.75 L430.84,220.45 L432.33,221.23 L433.69,222.09 L434.90,223.01 L435.97,224.01 L436.88,225.06 L437.64,226.18 L438.23,227.35 L438.66,228.57 L438.91,229.86 L439.00,231.30 L438.91,232.74 L438.66,234.03 L438.23,235.25 L437.64,236.42 L436.88,237.54 L435.97,238.59 L434.90,239.59 L433.69,240.51 L432.33,241.37 L430.84,242.14 L429.21,242.83 L427.46,243.42 L425.57,243.88 L423.56,244.18 L421.46,244.32 L419.31,244.32 L417.14,244.26 L414.80,244.23 L412.46,244.26 L410.29,244.32 L408.14,244.32 L406.04,244.18 L404.03,243.88 L402.14,243.42 L400.39,242.83 L398.76,242.14 L397.27,241.37 L395.91,240.51 L394.70,239.59 L393.63,238.59 L392.72,237.54 L391.96,236.42 L391.37,235.25 L390.94,234.03 L390.69,232.74Z" fill="url(#rg2)"/></g>
<g clip-path="url(#s2_5)"><ellipse cx="383.55" cy="228.36" rx="23.75" ry="17.639999999999997" fill="#f2e6e9" filter="url(#blw)"/></g>
</g>
<text x="334.0" y="237.9" font-size="13" font-weight="bold" text-anchor="start" fill="#fff" >Vehicle + O<tspan font-size="9" dy="4">2</tspan></text>
<clipPath id="pc3"><rect x="445.3" y="135.3" width="111.5" height="111.5"/></clipPath>
<radialGradient id="rg3"><stop offset="0" stop-color="#d02c3a"/><stop offset="0.78" stop-color="#d02c3a"/><stop offset="1" stop-color="#d8404c"/></radialGradient>
<g clip-path="url(#pc3)">
<rect x="445.3" y="135.3" width="111.5" height="111.5" fill="url(#grid)" filter="url(#bgb)"/>
<clipPath id="s3_0"><path d="M452.50,152.20 L452.57,150.59 L452.79,149.14 L453.15,147.76 L453.65,146.45 L454.28,145.20 L455.05,144.01 L455.96,142.90 L456.98,141.86 L458.12,140.90 L459.38,140.03 L460.74,139.24 L462.20,138.56 L463.75,137.98 L465.42,137.55 L467.20,137.37 L469.08,137.54 L470.97,137.94 L472.90,138.16 L474.83,137.94 L476.72,137.54 L478.60,137.37 L480.38,137.55 L482.05,137.98 L483.60,138.56 L485.06,139.24 L486.42,140.03 L487.68,140.90 L488.82,141.86 L489.84,142.90 L490.75,144.01 L491.52,145.20 L492.15,146.45 L492.65,147.76 L493.01,149.14 L493.23,150.59 L493.30,152.20 L493.23,153.81 L493.01,155.26 L492.65,156.64 L492.15,157.95 L491.52,159.20 L490.75,160.39 L489.84,161.50 L488.82,162.54 L487.68,163.50 L486.42,164.37 L485.05,165.14 L483.57,165.80 L481.98,166.32 L480.28,166.66 L478.51,166.81 L476.70,166.81 L474.87,166.74 L472.90,166.71 L470.93,166.74 L469.10,166.81 L467.29,166.81 L465.52,166.66 L463.82,166.32 L462.23,165.80 L460.75,165.14 L459.38,164.37 L458.12,163.50 L456.98,162.54 L455.96,161.50 L455.05,160.39 L454.28,159.20 L453.65,157.95 L453.15,156.64 L452.79,155.26 L452.57,153.81Z"/></clipPath>
<g filter="url(#bl)"><path d="M452.20,152.20 L452.27,150.56 L452.49,149.08 L452.86,147.68 L453.36,146.34 L454.01,145.06 L454.79,143.86 L455.71,142.72 L456.75,141.66 L457.90,140.68 L459.18,139.79 L460.56,138.99 L462.04,138.29 L463.62,137.70 L465.31,137.27 L467.12,137.08 L469.03,137.26 L470.94,137.67 L472.90,137.89 L474.86,137.67 L476.77,137.26 L478.68,137.08 L480.49,137.27 L482.18,137.70 L483.76,138.29 L485.24,138.99 L486.62,139.79 L487.90,140.68 L489.05,141.66 L490.09,142.72 L491.01,143.86 L491.79,145.06 L492.44,146.34 L492.94,147.68 L493.31,149.08 L493.53,150.56 L493.60,152.20 L493.53,153.84 L493.31,155.32 L492.94,156.72 L492.44,158.06 L491.79,159.34 L491.01,160.54 L490.09,161.68 L489.05,162.74 L487.89,163.72 L486.62,164.60 L485.23,165.39 L483.73,166.06 L482.11,166.59 L480.39,166.93 L478.59,167.09 L476.76,167.09 L474.90,167.02 L472.90,166.99 L470.90,167.02 L469.04,167.09 L467.21,167.09 L465.41,166.93 L463.69,166.59 L462.07,166.06 L460.57,165.39 L459.18,164.60 L457.91,163.72 L456.75,162.74 L455.71,161.68 L454.79,160.54 L454.01,159.34 L453.36,158.06 L452.86,156.72 L452.49,155.32 L452.27,153.84Z" fill="#a86878"/>
<path d="M453.30,152.20 L453.37,150.67 L453.58,149.30 L453.92,147.99 L454.40,146.74 L455.01,145.56 L455.75,144.43 L456.62,143.38 L457.60,142.39 L458.70,141.48 L459.91,140.65 L461.21,139.91 L462.62,139.25 L464.11,138.71 L465.71,138.30 L467.43,138.13 L469.23,138.29 L471.04,138.67 L472.90,138.88 L474.76,138.67 L476.57,138.29 L478.37,138.13 L480.09,138.30 L481.69,138.71 L483.18,139.25 L484.59,139.91 L485.89,140.65 L487.10,141.48 L488.20,142.39 L489.18,143.38 L490.05,144.43 L490.79,145.56 L491.40,146.74 L491.88,147.99 L492.22,149.30 L492.43,150.67 L492.50,152.20 L492.43,153.73 L492.22,155.10 L491.88,156.41 L491.40,157.66 L490.79,158.84 L490.05,159.97 L489.18,161.02 L488.20,162.01 L487.10,162.92 L485.89,163.75 L484.57,164.48 L483.15,165.10 L481.62,165.59 L479.99,165.92 L478.29,166.06 L476.55,166.06 L474.80,166.00 L472.90,165.96 L471.00,166.00 L469.25,166.06 L467.51,166.06 L465.81,165.92 L464.18,165.59 L462.65,165.10 L461.23,164.48 L459.91,163.75 L458.70,162.92 L457.60,162.01 L456.62,161.02 L455.75,159.97 L455.01,158.84 L454.40,157.66 L453.92,156.41 L453.58,155.10 L453.37,153.73Z" fill="url(#rg3)"/></g>
<g clip-path="url(#s3_0)"><ellipse cx="447.40000000000003" cy="149.07999999999998" rx="19.38" ry="18.72" fill="#f2e6e9" filter="url(#blw)"/></g>
<clipPath id="s3_1"><path d="M506.20,160.90 L506.29,158.79 L506.55,156.90 L506.98,155.10 L507.58,153.38 L508.34,151.74 L509.27,150.19 L510.35,148.74 L511.58,147.38 L512.95,146.12 L514.46,144.98 L516.09,143.96 L517.84,143.06 L519.71,142.30 L521.71,141.74 L523.86,141.50 L526.12,141.73 L528.38,142.25 L530.70,142.54 L533.02,142.25 L535.28,141.73 L537.54,141.50 L539.69,141.74 L541.69,142.30 L543.56,143.06 L545.31,143.96 L546.94,144.98 L548.45,146.12 L549.82,147.38 L551.05,148.74 L552.13,150.19 L553.06,151.74 L553.82,153.38 L554.42,155.10 L554.85,156.90 L555.11,158.79 L555.20,160.90 L555.11,163.01 L554.85,164.90 L554.42,166.70 L553.82,168.42 L553.06,170.06 L552.13,171.61 L551.05,173.06 L549.82,174.42 L548.45,175.68 L546.94,176.82 L545.29,177.83 L543.51,178.69 L541.60,179.36 L539.57,179.81 L537.44,180.01 L535.27,180.01 L533.07,179.92 L530.70,179.87 L528.33,179.92 L526.13,180.01 L523.96,180.01 L521.83,179.81 L519.80,179.36 L517.89,178.69 L516.11,177.83 L514.46,176.82 L512.95,175.68 L511.58,174.42 L510.35,173.06 L509.27,171.61 L508.34,170.06 L507.58,168.42 L506.98,166.70 L506.55,164.90 L506.29,163.01Z"/></clipPath>
<g filter="url(#bl)"><path d="M505.90,160.90 L505.99,158.76 L506.25,156.84 L506.69,155.01 L507.29,153.27 L508.07,151.61 L509.01,150.04 L510.10,148.56 L511.35,147.18 L512.73,145.90 L514.26,144.75 L515.91,143.71 L517.69,142.79 L519.58,142.03 L521.60,141.46 L523.77,141.22 L526.06,141.45 L528.35,141.98 L530.70,142.27 L533.05,141.98 L535.34,141.45 L537.63,141.22 L539.80,141.46 L541.82,142.03 L543.71,142.79 L545.49,143.71 L547.14,144.75 L548.67,145.90 L550.05,147.18 L551.30,148.56 L552.39,150.04 L553.33,151.61 L554.11,153.27 L554.71,155.01 L555.15,156.84 L555.41,158.76 L555.50,160.90 L555.41,163.04 L555.15,164.96 L554.71,166.79 L554.11,168.53 L553.33,170.19 L552.39,171.76 L551.30,173.24 L550.05,174.62 L548.66,175.89 L547.14,177.05 L545.47,178.08 L543.67,178.95 L541.74,179.63 L539.68,180.08 L537.52,180.29 L535.32,180.29 L533.10,180.20 L530.70,180.15 L528.30,180.20 L526.08,180.29 L523.88,180.29 L521.72,180.08 L519.66,179.63 L517.73,178.95 L515.93,178.08 L514.26,177.05 L512.74,175.89 L511.35,174.62 L510.10,173.24 L509.01,171.76 L508.07,170.19 L507.29,168.53 L506.69,166.79 L506.25,164.96 L505.99,163.04Z" fill="#a86878"/>
<path d="M507.00,160.90 L507.08,158.87 L507.34,157.05 L507.75,155.33 L508.33,153.68 L509.07,152.10 L509.97,150.61 L511.01,149.21 L512.20,147.91 L513.53,146.70 L514.99,145.60 L516.57,144.62 L518.26,143.76 L520.07,143.03 L522.01,142.49 L524.08,142.26 L526.27,142.48 L528.45,142.98 L530.70,143.26 L532.95,142.98 L535.13,142.48 L537.32,142.26 L539.39,142.49 L541.33,143.03 L543.14,143.76 L544.83,144.62 L546.41,145.60 L547.87,146.70 L549.20,147.91 L550.39,149.21 L551.43,150.61 L552.33,152.10 L553.07,153.68 L553.65,155.33 L554.06,157.05 L554.32,158.87 L554.40,160.90 L554.32,162.93 L554.06,164.75 L553.65,166.47 L553.07,168.12 L552.33,169.70 L551.43,171.19 L550.39,172.59 L549.20,173.89 L547.87,175.10 L546.41,176.19 L544.82,177.16 L543.10,177.99 L541.25,178.63 L539.28,179.06 L537.22,179.26 L535.12,179.26 L532.99,179.17 L530.70,179.13 L528.41,179.17 L526.28,179.26 L524.18,179.26 L522.12,179.06 L520.15,178.63 L518.30,177.99 L516.58,177.16 L514.99,176.19 L513.53,175.10 L512.20,173.89 L511.01,172.59 L509.97,171.19 L509.07,169.70 L508.33,168.12 L507.75,166.47 L507.34,164.75 L507.08,162.93Z" fill="url(#rg3)"/></g>
<g clip-path="url(#s3_1)"><ellipse cx="500.0750000000001" cy="156.82" rx="23.275" ry="24.479999999999997" fill="#f2e6e9" filter="url(#blw)"/></g>
<clipPath id="s3_2"><path d="M450.50,185.00 L450.58,183.18 L450.80,181.55 L451.18,179.99 L451.70,178.51 L452.37,177.10 L453.18,175.76 L454.12,174.51 L455.20,173.33 L456.40,172.25 L457.71,171.26 L459.14,170.38 L460.67,169.61 L462.30,168.95 L464.05,168.47 L465.92,168.27 L467.90,168.46 L469.87,168.91 L471.90,169.16 L473.93,168.91 L475.90,168.46 L477.88,168.27 L479.75,168.47 L481.50,168.95 L483.13,169.61 L484.66,170.38 L486.09,171.26 L487.40,172.25 L488.60,173.33 L489.68,174.51 L490.62,175.76 L491.43,177.10 L492.10,178.51 L492.62,179.99 L493.00,181.55 L493.22,183.18 L493.30,185.00 L493.22,186.82 L493.00,188.45 L492.62,190.01 L492.10,191.49 L491.43,192.90 L490.62,194.24 L489.68,195.49 L488.60,196.67 L487.40,197.75 L486.08,198.73 L484.65,199.60 L483.09,200.34 L481.42,200.93 L479.65,201.31 L477.79,201.48 L475.89,201.49 L473.97,201.41 L471.90,201.37 L469.83,201.41 L467.91,201.49 L466.01,201.48 L464.15,201.31 L462.38,200.93 L460.71,200.34 L459.15,199.60 L457.72,198.73 L456.40,197.75 L455.20,196.67 L454.12,195.49 L453.18,194.24 L452.37,192.90 L451.70,191.49 L451.18,190.01 L450.80,188.45 L450.58,186.82Z"/></clipPath>
<g filter="url(#bl)"><path d="M450.20,185.00 L450.28,183.15 L450.51,181.49 L450.89,179.91 L451.42,178.40 L452.10,176.97 L452.92,175.61 L453.88,174.33 L454.96,173.13 L456.18,172.03 L457.51,171.03 L458.96,170.13 L460.51,169.34 L462.17,168.68 L463.94,168.19 L465.84,167.98 L467.84,168.18 L469.84,168.64 L471.90,168.89 L473.96,168.64 L475.96,168.18 L477.96,167.98 L479.86,168.19 L481.63,168.68 L483.29,169.34 L484.84,170.13 L486.29,171.03 L487.62,172.03 L488.84,173.13 L489.92,174.33 L490.88,175.61 L491.70,176.97 L492.38,178.40 L492.91,179.91 L493.29,181.49 L493.52,183.15 L493.60,185.00 L493.52,186.85 L493.29,188.51 L492.91,190.09 L492.38,191.60 L491.70,193.03 L490.88,194.39 L489.92,195.67 L488.83,196.87 L487.62,197.97 L486.28,198.97 L484.82,199.85 L483.25,200.61 L481.56,201.20 L479.75,201.59 L477.87,201.77 L475.95,201.77 L474.00,201.69 L471.90,201.65 L469.80,201.69 L467.85,201.77 L465.93,201.77 L464.05,201.59 L462.24,201.20 L460.55,200.61 L458.98,199.85 L457.52,198.97 L456.18,197.97 L454.97,196.87 L453.88,195.67 L452.92,194.39 L452.10,193.03 L451.42,191.60 L450.89,190.09 L450.51,188.51 L450.28,186.85Z" fill="#a86878"/>
<path d="M451.30,185.00 L451.37,183.26 L451.59,181.70 L451.95,180.22 L452.46,178.81 L453.10,177.46 L453.88,176.18 L454.79,174.98 L455.82,173.86 L456.98,172.83 L458.24,171.89 L459.62,171.05 L461.09,170.31 L462.66,169.68 L464.34,169.22 L466.15,169.03 L468.05,169.21 L469.95,169.64 L471.90,169.88 L473.85,169.64 L475.75,169.21 L477.65,169.03 L479.46,169.22 L481.14,169.68 L482.71,170.31 L484.18,171.05 L485.56,171.89 L486.82,172.83 L487.98,173.86 L489.01,174.98 L489.92,176.18 L490.70,177.46 L491.34,178.81 L491.85,180.22 L492.21,181.70 L492.43,183.26 L492.50,185.00 L492.43,186.74 L492.21,188.30 L491.85,189.78 L491.34,191.19 L490.70,192.54 L489.92,193.82 L489.01,195.02 L487.98,196.14 L486.82,197.17 L485.55,198.11 L484.17,198.94 L482.67,199.65 L481.07,200.20 L479.36,200.57 L477.57,200.74 L475.74,200.74 L473.89,200.66 L471.90,200.62 L469.91,200.66 L468.06,200.74 L466.23,200.74 L464.44,200.57 L462.73,200.20 L461.13,199.65 L459.63,198.94 L458.25,198.11 L456.98,197.17 L455.82,196.14 L454.79,195.02 L453.88,193.82 L453.10,192.54 L452.46,191.19 L451.95,189.78 L451.59,188.30 L451.37,186.74Z" fill="url(#rg3)"/></g>
<g clip-path="url(#s3_2)"><ellipse cx="445.15" cy="181.48" rx="20.33" ry="21.12" fill="#f2e6e9" filter="url(#blw)"/></g>
<clipPath id="s3_3"><path d="M505.20,203.30 L505.29,201.09 L505.56,199.10 L506.01,197.21 L506.63,195.41 L507.43,193.70 L508.39,192.07 L509.52,190.54 L510.80,189.11 L512.23,187.80 L513.80,186.60 L515.50,185.52 L517.32,184.58 L519.27,183.79 L521.35,183.20 L523.58,182.95 L525.93,183.19 L528.28,183.74 L530.70,184.04 L533.12,183.74 L535.47,183.19 L537.82,182.95 L540.05,183.20 L542.13,183.79 L544.08,184.58 L545.90,185.52 L547.60,186.60 L549.17,187.80 L550.60,189.11 L551.88,190.54 L553.01,192.07 L553.97,193.70 L554.77,195.41 L555.39,197.21 L555.84,199.10 L556.11,201.09 L556.20,203.30 L556.11,205.51 L555.84,207.50 L555.39,209.39 L554.77,211.19 L553.97,212.90 L553.01,214.53 L551.88,216.06 L550.60,217.49 L549.17,218.80 L547.60,220.00 L545.89,221.06 L544.04,221.96 L542.05,222.66 L539.93,223.13 L537.72,223.34 L535.45,223.34 L533.17,223.25 L530.70,223.20 L528.23,223.25 L525.95,223.34 L523.68,223.34 L521.47,223.13 L519.35,222.66 L517.36,221.96 L515.51,221.06 L513.80,220.00 L512.23,218.80 L510.80,217.49 L509.52,216.06 L508.39,214.53 L507.43,212.90 L506.63,211.19 L506.01,209.39 L505.56,207.50 L505.29,205.51Z"/></clipPath>
<g filter="url(#bl)"><path d="M504.90,203.30 L504.99,201.06 L505.26,199.04 L505.72,197.13 L506.35,195.30 L507.16,193.56 L508.13,191.91 L509.27,190.36 L510.57,188.91 L512.01,187.58 L513.60,186.36 L515.32,185.28 L517.16,184.32 L519.13,183.51 L521.24,182.92 L523.49,182.67 L525.87,182.91 L528.25,183.46 L530.70,183.77 L533.15,183.46 L535.53,182.91 L537.91,182.67 L540.16,182.92 L542.27,183.51 L544.24,184.32 L546.08,185.28 L547.80,186.36 L549.39,187.58 L550.83,188.91 L552.13,190.36 L553.27,191.91 L554.24,193.56 L555.05,195.30 L555.68,197.13 L556.14,199.04 L556.41,201.06 L556.50,203.30 L556.41,205.54 L556.14,207.56 L555.68,209.47 L555.05,211.30 L554.24,213.04 L553.27,214.69 L552.13,216.24 L550.83,217.69 L549.39,219.02 L547.80,220.23 L546.07,221.30 L544.19,222.22 L542.18,222.94 L540.04,223.41 L537.80,223.62 L535.51,223.63 L533.19,223.53 L530.70,223.48 L528.21,223.53 L525.89,223.63 L523.60,223.62 L521.36,223.41 L519.22,222.94 L517.21,222.22 L515.33,221.30 L513.60,220.23 L512.01,219.02 L510.57,217.69 L509.27,216.24 L508.13,214.69 L507.16,213.04 L506.35,211.30 L505.72,209.47 L505.26,207.56 L504.99,205.54Z" fill="#a86878"/>
<path d="M506.00,203.30 L506.09,201.17 L506.35,199.26 L506.78,197.44 L507.39,195.71 L508.16,194.05 L509.09,192.49 L510.18,191.02 L511.42,189.64 L512.81,188.38 L514.33,187.22 L515.97,186.19 L517.74,185.28 L519.62,184.52 L521.64,183.95 L523.80,183.71 L526.08,183.94 L528.36,184.47 L530.70,184.76 L533.04,184.47 L535.32,183.94 L537.60,183.71 L539.76,183.95 L541.78,184.52 L543.66,185.28 L545.43,186.19 L547.07,187.22 L548.59,188.38 L549.98,189.64 L551.22,191.02 L552.31,192.49 L553.24,194.05 L554.01,195.71 L554.62,197.44 L555.05,199.26 L555.31,201.17 L555.40,203.30 L555.31,205.43 L555.05,207.34 L554.62,209.16 L554.01,210.89 L553.24,212.55 L552.31,214.11 L551.22,215.58 L549.98,216.96 L548.59,218.22 L547.07,219.37 L545.41,220.39 L543.62,221.26 L541.69,221.94 L539.64,222.39 L537.50,222.59 L535.30,222.60 L533.09,222.51 L530.70,222.46 L528.31,222.51 L526.10,222.60 L523.90,222.59 L521.76,222.39 L519.71,221.94 L517.78,221.26 L515.99,220.39 L514.33,219.37 L512.81,218.22 L511.42,216.96 L510.18,215.58 L509.09,214.11 L508.16,212.55 L507.39,210.89 L506.78,209.16 L506.35,207.34 L506.09,205.43Z" fill="url(#rg3)"/></g>
<g clip-path="url(#s3_3)"><ellipse cx="500.3550000000001" cy="199.02" rx="24.224999999999998" ry="25.679999999999996" fill="#f2e6e9" filter="url(#blw)"/></g>
<clipPath id="s3_4"><path d="M445.00,220.70 L445.09,218.98 L445.35,217.44 L445.79,215.98 L446.41,214.58 L447.19,213.25 L448.13,211.99 L449.23,210.80 L450.49,209.70 L451.89,208.67 L453.43,207.75 L455.09,206.91 L456.88,206.18 L458.79,205.56 L460.83,205.11 L463.02,204.92 L465.32,205.10 L467.63,205.53 L470.00,205.76 L472.37,205.53 L474.68,205.10 L476.98,204.92 L479.17,205.11 L481.21,205.56 L483.12,206.18 L484.91,206.91 L486.57,207.75 L488.11,208.67 L489.51,209.70 L490.77,210.80 L491.87,211.99 L492.81,213.25 L493.59,214.58 L494.21,215.98 L494.65,217.44 L494.91,218.98 L495.00,220.70 L494.91,222.42 L494.65,223.96 L494.21,225.42 L493.59,226.82 L492.81,228.15 L491.87,229.41 L490.77,230.60 L489.51,231.70 L488.11,232.72 L486.57,233.65 L484.89,234.47 L483.08,235.17 L481.13,235.72 L479.05,236.08 L476.88,236.25 L474.66,236.25 L472.42,236.18 L470.00,236.14 L467.58,236.18 L465.34,236.25 L463.12,236.25 L460.95,236.08 L458.87,235.72 L456.92,235.17 L455.11,234.47 L453.43,233.65 L451.89,232.72 L450.49,231.70 L449.23,230.60 L448.13,229.41 L447.19,228.15 L446.41,226.82 L445.79,225.42 L445.35,223.96 L445.09,222.42Z"/></clipPath>
<g filter="url(#bl)"><path d="M444.70,220.70 L444.79,218.95 L445.06,217.38 L445.50,215.89 L446.12,214.47 L446.91,213.12 L447.87,211.83 L448.99,210.62 L450.26,209.50 L451.67,208.46 L453.23,207.51 L454.91,206.66 L456.72,205.92 L458.66,205.29 L460.72,204.83 L462.93,204.63 L465.27,204.82 L467.60,205.25 L470.00,205.49 L472.40,205.25 L474.73,204.82 L477.07,204.63 L479.28,204.83 L481.34,205.29 L483.28,205.92 L485.09,206.66 L486.77,207.51 L488.33,208.46 L489.74,209.50 L491.01,210.62 L492.13,211.83 L493.09,213.12 L493.88,214.47 L494.50,215.89 L494.94,217.38 L495.21,218.95 L495.30,220.70 L495.21,222.45 L494.94,224.02 L494.50,225.51 L493.88,226.93 L493.09,228.28 L492.13,229.57 L491.01,230.78 L489.74,231.90 L488.33,232.94 L486.77,233.89 L485.07,234.72 L483.23,235.43 L481.26,235.99 L479.16,236.36 L476.96,236.53 L474.72,236.53 L472.45,236.46 L470.00,236.42 L467.55,236.46 L465.28,236.53 L463.04,236.53 L460.84,236.36 L458.74,235.99 L456.77,235.43 L454.93,234.72 L453.23,233.89 L451.67,232.94 L450.26,231.90 L448.99,230.78 L447.87,229.57 L446.91,228.28 L446.12,226.93 L445.50,225.51 L445.06,224.02 L444.79,222.45Z" fill="#a86878"/>
<path d="M445.80,220.70 L445.89,219.07 L446.14,217.60 L446.57,216.21 L447.16,214.88 L447.92,213.61 L448.83,212.41 L449.90,211.28 L451.11,210.23 L452.47,209.25 L453.96,208.37 L455.57,207.58 L457.30,206.88 L459.15,206.29 L461.12,205.86 L463.24,205.68 L465.47,205.85 L467.71,206.26 L470.00,206.48 L472.29,206.26 L474.53,205.85 L476.76,205.68 L478.88,205.86 L480.85,206.29 L482.70,206.88 L484.43,207.58 L486.04,208.37 L487.53,209.25 L488.89,210.23 L490.10,211.28 L491.17,212.41 L492.08,213.61 L492.84,214.88 L493.43,216.21 L493.86,217.60 L494.11,219.07 L494.20,220.70 L494.11,222.33 L493.86,223.80 L493.43,225.19 L492.84,226.52 L492.08,227.79 L491.17,228.99 L490.10,230.12 L488.89,231.17 L487.53,232.14 L486.04,233.03 L484.41,233.81 L482.66,234.48 L480.77,235.00 L478.76,235.34 L476.66,235.50 L474.51,235.50 L472.34,235.43 L470.00,235.39 L467.66,235.43 L465.49,235.50 L463.34,235.50 L461.24,235.34 L459.23,235.00 L457.34,234.48 L455.59,233.81 L453.96,233.03 L452.47,232.14 L451.11,231.17 L449.90,230.12 L448.83,228.99 L447.92,227.79 L447.16,226.52 L446.57,225.19 L446.14,223.80 L445.89,222.33Z" fill="url(#rg3)"/></g>
<g clip-path="url(#s3_4)"><ellipse cx="436.25" cy="217.38" rx="23.75" ry="19.92" fill="#f2e6e9" filter="url(#blw)"/></g>
<clipPath id="s3_5"><path d="M519.40,239.00 L519.47,237.86 L519.68,236.84 L520.03,235.87 L520.52,234.95 L521.15,234.06 L521.90,233.23 L522.79,232.44 L523.79,231.71 L524.91,231.03 L526.14,230.42 L527.47,229.86 L528.91,229.38 L530.43,228.97 L532.06,228.67 L533.81,228.54 L535.66,228.66 L537.50,228.95 L539.40,229.10 L541.30,228.95 L543.14,228.66 L544.99,228.54 L546.74,228.67 L548.37,228.97 L549.89,229.38 L551.33,229.86 L552.66,230.42 L553.89,231.03 L555.01,231.71 L556.01,232.44 L556.90,233.23 L557.65,234.06 L558.28,234.95 L558.77,235.87 L559.12,236.84 L559.33,237.86 L559.40,239.00 L559.33,240.14 L559.12,241.16 L558.77,242.13 L558.28,243.05 L557.65,243.94 L556.90,244.77 L556.01,245.56 L555.01,246.29 L553.89,246.97 L552.65,247.58 L551.31,248.13 L549.86,248.59 L548.30,248.95 L546.64,249.19 L544.90,249.30 L543.13,249.30 L541.33,249.26 L539.40,249.23 L537.47,249.26 L535.67,249.30 L533.90,249.30 L532.16,249.19 L530.50,248.95 L528.94,248.59 L527.49,248.13 L526.15,247.58 L524.91,246.97 L523.79,246.29 L522.79,245.56 L521.90,244.77 L521.15,243.94 L520.52,243.05 L520.03,242.13 L519.68,241.16 L519.47,240.14Z"/></clipPath>
<g filter="url(#bl)"><path d="M519.10,239.00 L519.17,237.83 L519.39,236.78 L519.74,235.79 L520.24,234.83 L520.88,233.93 L521.64,233.07 L522.54,232.26 L523.56,231.51 L524.69,230.81 L525.94,230.18 L527.30,229.61 L528.75,229.12 L530.30,228.70 L531.95,228.39 L533.73,228.26 L535.60,228.38 L537.48,228.67 L539.40,228.83 L541.32,228.67 L543.20,228.38 L545.07,228.26 L546.85,228.39 L548.50,228.70 L550.05,229.12 L551.50,229.61 L552.86,230.18 L554.11,230.81 L555.24,231.51 L556.26,232.26 L557.16,233.07 L557.92,233.93 L558.56,234.83 L559.06,235.79 L559.41,236.78 L559.63,237.83 L559.70,239.00 L559.63,240.17 L559.41,241.22 L559.06,242.21 L558.56,243.17 L557.92,244.07 L557.16,244.93 L556.26,245.74 L555.24,246.49 L554.10,247.19 L552.85,247.82 L551.49,248.38 L550.02,248.85 L548.43,249.22 L546.75,249.47 L544.98,249.58 L543.18,249.58 L541.36,249.54 L539.40,249.51 L537.44,249.54 L535.62,249.58 L533.82,249.58 L532.05,249.47 L530.37,249.22 L528.78,248.85 L527.31,248.38 L525.95,247.82 L524.70,247.19 L523.56,246.49 L522.54,245.74 L521.64,244.93 L520.88,244.07 L520.24,243.17 L519.74,242.21 L519.39,241.22 L519.17,240.17Z" fill="#a86878"/>
<path d="M520.20,239.00 L520.27,237.95 L520.47,237.00 L520.81,236.10 L521.28,235.24 L521.88,234.42 L522.60,233.65 L523.45,232.92 L524.42,232.24 L525.49,231.61 L526.67,231.04 L527.95,230.53 L529.33,230.08 L530.79,229.70 L532.36,229.42 L534.04,229.30 L535.81,229.41 L537.58,229.68 L539.40,229.82 L541.22,229.68 L542.99,229.41 L544.76,229.30 L546.44,229.42 L548.01,229.70 L549.47,230.08 L550.85,230.53 L552.13,231.04 L553.31,231.61 L554.38,232.24 L555.35,232.92 L556.20,233.65 L556.92,234.42 L557.52,235.24 L557.99,236.10 L558.33,237.00 L558.53,237.95 L558.60,239.00 L558.53,240.05 L558.33,241.00 L557.99,241.90 L557.52,242.76 L556.92,243.58 L556.20,244.35 L555.35,245.08 L554.38,245.76 L553.31,246.39 L552.12,246.96 L550.84,247.46 L549.44,247.89 L547.94,248.23 L546.35,248.45 L544.68,248.55 L542.98,248.55 L541.26,248.51 L539.40,248.49 L537.54,248.51 L535.82,248.55 L534.12,248.55 L532.45,248.45 L530.86,248.23 L529.36,247.89 L527.96,247.46 L526.68,246.96 L525.49,246.39 L524.42,245.76 L523.45,245.08 L522.60,244.35 L521.88,243.58 L521.28,242.76 L520.81,241.90 L520.47,241.00 L520.27,240.05Z" fill="url(#rg3)"/></g>
<g filter="url(#bl)"><rect x="499.6" y="135" width="2.6" height="9" fill="#8a1830"/><ellipse cx="500.9" cy="145.5" rx="3.5" ry="2" fill="#8a1830"/></g>
</g>
<text x="454.8" y="237.5" font-size="13" font-weight="bold" text-anchor="start" fill="#fff" >Pyridaben + O<tspan font-size="9" dy="4">2</tspan></text>
<text x="10.6" y="284.6" font-size="16.5" font-weight="bold" text-anchor="start" fill="#111" >C</text>
<line x1="52.4" y1="319" x2="52.4" y2="463.3" stroke="#222" stroke-width="1.3"/>
<line x1="48.6" y1="463.0" x2="52.4" y2="463.0" stroke="#222" stroke-width="1"/>
<line x1="50.2" y1="452.875" x2="52.4" y2="452.875" stroke="#444" stroke-width="0.8"/>
<line x1="50.2" y1="442.75" x2="52.4" y2="442.75" stroke="#444" stroke-width="0.8"/>
<line x1="50.2" y1="432.625" x2="52.4" y2="432.625" stroke="#444" stroke-width="0.8"/>
<line x1="48.6" y1="422.5" x2="52.4" y2="422.5" stroke="#222" stroke-width="1"/>
<line x1="50.2" y1="412.375" x2="52.4" y2="412.375" stroke="#444" stroke-width="0.8"/>
<line x1="50.2" y1="402.25" x2="52.4" y2="402.25" stroke="#444" stroke-width="0.8"/>
<line x1="50.2" y1="392.125" x2="52.4" y2="392.125" stroke="#444" stroke-width="0.8"/>
<line x1="48.6" y1="382.0" x2="52.4" y2="382.0" stroke="#222" stroke-width="1"/>
<line x1="50.2" y1="371.875" x2="52.4" y2="371.875" stroke="#444" stroke-width="0.8"/>
<line x1="50.2" y1="361.75" x2="52.4" y2="361.75" stroke="#444" stroke-width="0.8"/>
<line x1="50.2" y1="351.625" x2="52.4" y2="351.625" stroke="#444" stroke-width="0.8"/>
<line x1="48.6" y1="341.5" x2="52.4" y2="341.5" stroke="#222" stroke-width="1"/>
<line x1="50.2" y1="331.375" x2="52.4" y2="331.375" stroke="#444" stroke-width="0.8"/>
<line x1="50.2" y1="321.25" x2="52.4" y2="321.25" stroke="#444" stroke-width="0.8"/>
<text x="42.4" y="467.4" font-size="9.4" font-weight="bold" text-anchor="end" fill="#111" >0</text>
<text x="42.4" y="426.9" font-size="9.4" font-weight="bold" text-anchor="end" fill="#111" >40</text>
<text x="42.4" y="386.4" font-size="9.4" font-weight="bold" text-anchor="end" fill="#111" >80</text>
<text x="42.4" y="345.9" font-size="9.4" font-weight="bold" text-anchor="end" fill="#111" >120</text>
<text transform="translate(22.2,391.2) rotate(-90)" font-size="12" font-weight="bold" text-anchor="middle" fill="#111">Aconitase activity mU/mg/min</text>
<rect x="59.0" y="343.2" width="29.5" height="119.80000000000001" fill="#fff" stroke="#000" stroke-width="1" />
<line x1="73.5" y1="342.7" x2="73.5" y2="337.1" stroke="#000" stroke-width="1"/>
<line x1="71.9" y1="337.1" x2="75.1" y2="337.1" stroke="#000" stroke-width="1"/>
<rect x="97.7" y="382.6" width="29.999999999999986" height="80.39999999999998" fill="#000" stroke="#000" stroke-width="1" />
<line x1="112.6" y1="382.1" x2="112.6" y2="376.3" stroke="#000" stroke-width="1"/>
<line x1="111.39999999999999" y1="376.3" x2="113.8" y2="376.3" stroke="#000" stroke-width="1"/>
<rect x="131.7" y="360.4" width="30.600000000000023" height="102.60000000000002" fill="#808080" stroke="#000" stroke-width="1" />
<line x1="146.9" y1="359.9" x2="146.9" y2="352.4" stroke="#000" stroke-width="1"/>
<line x1="145.70000000000002" y1="352.4" x2="148.1" y2="352.4" stroke="#000" stroke-width="1"/>
<rect x="171.9" y="415.7" width="30.0" height="47.30000000000001" fill="#000" stroke="#000" stroke-width="1" />
<line x1="187" y1="415.2" x2="187" y2="411.3" stroke="#000" stroke-width="1"/>
<line x1="185.8" y1="411.3" x2="188.2" y2="411.3" stroke="#000" stroke-width="1"/>
<rect x="205.4" y="397.1" width="29.69999999999999" height="65.89999999999998" fill="#808080" stroke="#000" stroke-width="1" />
<line x1="219.6" y1="396.6" x2="219.6" y2="391.7" stroke="#000" stroke-width="1"/>
<line x1="218.4" y1="391.7" x2="220.79999999999998" y2="391.7" stroke="#000" stroke-width="1"/>
<text x="113.3" y="375.3" font-size="11" font-weight="bold" text-anchor="middle" fill="#111" >*</text>
<text x="146" y="349.8" font-size="11" font-weight="bold" text-anchor="middle" fill="#111" >*</text>
<text x="186.4" y="409.40000000000003" font-size="11" font-weight="bold" text-anchor="middle" fill="#111" >*</text>
<text x="219.4" y="388.8" font-size="11" font-weight="bold" text-anchor="middle" fill="#111" >*</text>
<text x="186.4" y="398" font-size="9.5" font-weight="normal" text-anchor="middle" fill="#111" >#</text>
<text x="219.4" y="378.2" font-size="9.5" font-weight="normal" text-anchor="middle" fill="#111" >#</text>
<path d="M110.3,346 V331.2 H146.9 V337.8" fill="none" stroke="#222" stroke-width="1"/>
<text x="128.7" y="326.3" font-size="10" font-weight="normal" text-anchor="middle" fill="#111" >p = 0.01</text>
<path d="M186.3,376.5 V362.3 H219.3 V369" fill="none" stroke="#222" stroke-width="1"/>
<text x="203.7" y="357.4" font-size="10" font-weight="normal" text-anchor="middle" fill="#111" >p = 0.03</text>
<line x1="73.5" y1="463" x2="73.5" y2="465.5" stroke="#222" stroke-width="1"/>
<line x1="113" y1="463" x2="113" y2="465.5" stroke="#222" stroke-width="1"/>
<line x1="146.5" y1="463" x2="146.5" y2="465.5" stroke="#222" stroke-width="1"/>
<line x1="187" y1="463" x2="187" y2="465.5" stroke="#222" stroke-width="1"/>
<line x1="219" y1="463" x2="219" y2="465.5" stroke="#222" stroke-width="1"/>
<text x="71.5" y="480.3" font-size="11.3" font-weight="bold" text-anchor="middle" fill="#111" >Naive</text>
<text x="129" y="480.3" font-size="11.3" font-weight="bold" text-anchor="middle" fill="#111" >Normoxia</text>
<text x="202.5" y="480.3" font-size="11.3" font-weight="bold" text-anchor="middle" fill="#111" >Hyperoxia</text>
<text x="303.1" y="283.6" font-size="16.8" font-weight="bold" text-anchor="start" fill="#111" >D</text>
<text transform="translate(267.2,401.5) rotate(-90)" font-size="12.4" font-weight="bold" text-anchor="middle" fill="#111">Number of positive</text>
<text transform="translate(281.2,404.2) rotate(-90)" font-size="12.4" font-weight="bold" text-anchor="middle" fill="#111">cells per mm<tspan font-size="8" dy="-5">2</tspan></text>
<line x1="310.4" y1="310.1" x2="310.4" y2="393.7" stroke="#222" stroke-width="1.3"/>
<line x1="308.2" y1="392.9" x2="310.4" y2="392.9" stroke="#333" stroke-width="0.8"/>
<line x1="309.2" y1="386.3075" x2="310.4" y2="386.3075" stroke="#333" stroke-width="0.8"/>
<line x1="309.2" y1="379.715" x2="310.4" y2="379.715" stroke="#333" stroke-width="0.8"/>
<line x1="309.2" y1="373.1225" x2="310.4" y2="373.1225" stroke="#333" stroke-width="0.8"/>
<line x1="308.2" y1="366.53" x2="310.4" y2="366.53" stroke="#333" stroke-width="0.8"/>
<line x1="309.2" y1="359.9375" x2="310.4" y2="359.9375" stroke="#333" stroke-width="0.8"/>
<line x1="309.2" y1="353.34499999999997" x2="310.4" y2="353.34499999999997" stroke="#333" stroke-width="0.8"/>
<line x1="309.2" y1="346.7525" x2="310.4" y2="346.7525" stroke="#333" stroke-width="0.8"/>
<line x1="308.2" y1="340.15999999999997" x2="310.4" y2="340.15999999999997" stroke="#333" stroke-width="0.8"/>
<line x1="309.2" y1="333.5675" x2="310.4" y2="333.5675" stroke="#333" stroke-width="0.8"/>
<line x1="309.2" y1="326.97499999999997" x2="310.4" y2="326.97499999999997" stroke="#333" stroke-width="0.8"/>
<line x1="309.2" y1="320.3825" x2="310.4" y2="320.3825" stroke="#333" stroke-width="0.8"/>
<line x1="308.2" y1="313.78999999999996" x2="310.4" y2="313.78999999999996" stroke="#333" stroke-width="0.8"/>
<text x="306.5" y="396.7" font-size="10" font-weight="bold" text-anchor="end" fill="#111" >0</text>
<text x="306.5" y="370.33" font-size="10" font-weight="bold" text-anchor="end" fill="#111" >100</text>
<text x="306.5" y="343.96" font-size="10" font-weight="bold" text-anchor="end" fill="#111" >200</text>
<text x="306.5" y="317.59" font-size="10" font-weight="bold" text-anchor="end" fill="#111" >300</text>
<rect x="315.9" y="322.3" width="29.30000000000001" height="71.39999999999998" fill="#000" stroke="#000" stroke-width="1" />
<line x1="330.6" y1="321.8" x2="330.6" y2="311.8" stroke="#000" stroke-width="1"/>
<line x1="329.8" y1="311.8" x2="331.40000000000003" y2="311.8" stroke="#000" stroke-width="1"/>
<rect x="349.8" y="344.9" width="29.099999999999966" height="48.80000000000001" fill="#808080" stroke="#000" stroke-width="1" />
<line x1="364.4" y1="344.4" x2="364.4" y2="341.1" stroke="#000" stroke-width="1"/>
<line x1="363.59999999999997" y1="341.1" x2="365.2" y2="341.1" stroke="#000" stroke-width="1"/>
<path d="M332.1,311 V308.5 H364.4 V330.2" fill="none" stroke="#222" stroke-width="1"/>
<text x="350.2" y="302.6" font-size="10" font-weight="bold" text-anchor="middle" fill="#111" >p = 0.03</text>
<text x="328.3" y="405.2" font-size="12.5" font-weight="bold" text-anchor="middle" fill="#111" >V</text>
<text x="363" y="405.2" font-size="12.5" font-weight="bold" text-anchor="middle" fill="#111" >P</text>
<line x1="309.3" y1="426.5" x2="309.3" y2="504.3" stroke="#222" stroke-width="1.3"/>
<line x1="307.1" y1="504.3" x2="309.3" y2="504.3" stroke="#333" stroke-width="0.8"/>
<line x1="308.1" y1="496.55" x2="309.3" y2="496.55" stroke="#333" stroke-width="0.8"/>
<line x1="308.1" y1="488.8" x2="309.3" y2="488.8" stroke="#333" stroke-width="0.8"/>
<line x1="308.1" y1="481.05" x2="309.3" y2="481.05" stroke="#333" stroke-width="0.8"/>
<line x1="307.1" y1="473.3" x2="309.3" y2="473.3" stroke="#333" stroke-width="0.8"/>
<line x1="308.1" y1="465.55" x2="309.3" y2="465.55" stroke="#333" stroke-width="0.8"/>
<line x1="308.1" y1="457.8" x2="309.3" y2="457.8" stroke="#333" stroke-width="0.8"/>
<line x1="308.1" y1="450.05" x2="309.3" y2="450.05" stroke="#333" stroke-width="0.8"/>
<line x1="307.1" y1="442.3" x2="309.3" y2="442.3" stroke="#333" stroke-width="0.8"/>
<line x1="308.1" y1="434.55" x2="309.3" y2="434.55" stroke="#333" stroke-width="0.8"/>
<line x1="308.1" y1="426.8" x2="309.3" y2="426.8" stroke="#333" stroke-width="0.8"/>
<text x="305.4" y="508.1" font-size="10" font-weight="bold" text-anchor="end" fill="#111" >0</text>
<text x="305.4" y="477.1" font-size="10" font-weight="bold" text-anchor="end" fill="#111" >100</text>
<text x="305.4" y="446.1" font-size="10" font-weight="bold" text-anchor="end" fill="#111" >200</text>
<rect x="316.6" y="437.8" width="30.599999999999966" height="67.19999999999999" fill="#000" stroke="#000" stroke-width="1" />
<line x1="331.9" y1="437.3" x2="331.9" y2="437.3" stroke="#000" stroke-width="1"/>
<line x1="331.9" y1="437.3" x2="331.9" y2="437.3" stroke="#000" stroke-width="1"/>
<rect x="351.4" y="480.1" width="30.400000000000034" height="24.899999999999977" fill="#808080" stroke="#000" stroke-width="1" />
<line x1="366.6" y1="479.6" x2="366.6" y2="478" stroke="#000" stroke-width="1"/>
<line x1="365.8" y1="478" x2="367.40000000000003" y2="478" stroke="#000" stroke-width="1"/>
<path d="M332,437.3 V427.7 H367.1 V468.3" fill="none" stroke="#222" stroke-width="1"/>
<text x="349.5" y="421.8" font-size="10" font-weight="bold" text-anchor="middle" fill="#111" >p = 0.03</text>
<text x="332.2" y="517.8" font-size="12.5" font-weight="bold" text-anchor="middle" fill="#111" >V</text>
<text x="367" y="517.8" font-size="12.5" font-weight="bold" text-anchor="middle" fill="#111" >P</text>
<defs>
<radialGradient id="rd"><stop offset="0" stop-color="#ff2020"/><stop offset="0.55" stop-color="#d01010"/><stop offset="1" stop-color="#d01010" stop-opacity="0"/></radialGradient>
<radialGradient id="rdd"><stop offset="0" stop-color="#b01010"/><stop offset="1" stop-color="#901010" stop-opacity="0"/></radialGradient>
<radialGradient id="pk"><stop offset="0" stop-color="#ff60c0"/><stop offset="0.5" stop-color="#e0209a"/><stop offset="1" stop-color="#c01080" stop-opacity="0"/></radialGradient>
<radialGradient id="bu"><stop offset="0" stop-color="#3040ff"/><stop offset="0.6" stop-color="#2020e0"/><stop offset="1" stop-color="#2020d0" stop-opacity="0"/></radialGradient>
</defs>
<defs><filter id="mb" x="-5%" y="-5%" width="110%" height="110%"><feGaussianBlur stdDeviation="0.7"/></filter><filter id="mb2" x="-5%" y="-5%" width="110%" height="110%"><feGaussianBlur stdDeviation="0.9"/></filter></defs>
<rect x="396.3" y="303.2" width="98.9" height="99.2" fill="#010000"/>
<g filter="url(#mb)">
<circle cx="434.5" cy="332.6" r="1.8" fill="#d81414"/>
<circle cx="449.9" cy="353.2" r="1.8" fill="#d81414"/>
<circle cx="456.8" cy="366" r="1.8" fill="#d81414"/>
<circle cx="460.2" cy="359.2" r="1.4" fill="#881010"/>
<circle cx="464.5" cy="355.8" r="1.4" fill="#881010"/>
<circle cx="437" cy="358.3" r="1.4" fill="#881010"/>
<circle cx="437.9" cy="366" r="1.8" fill="#d81414"/>
<circle cx="414.7" cy="369.5" r="1.4" fill="#881010"/>
<circle cx="405.3" cy="375.5" r="1.8" fill="#d81414"/>
<circle cx="419.9" cy="378.9" r="1.8" fill="#d81414"/>
<circle cx="420.7" cy="392.6" r="1.8" fill="#d81414"/>
<circle cx="398.4" cy="366" r="1.8" fill="#d81414"/>
<circle cx="407.9" cy="326.6" r="1.4" fill="#881010"/>
<circle cx="431" cy="320.6" r="1.4" fill="#881010"/>
<circle cx="454.2" cy="325.7" r="1.4" fill="#881010"/>
<circle cx="449.9" cy="335.2" r="1.4" fill="#881010"/>
<circle cx="443" cy="330" r="1.4" fill="#881010"/>
<circle cx="488.5" cy="363.5" r="1.8" fill="#d81414"/>
<circle cx="482.5" cy="378.9" r="1.4" fill="#881010"/>
<circle cx="453.3" cy="389.2" r="1.4" fill="#881010"/>
<circle cx="428.5" cy="339.5" r="1.4" fill="#881010"/>
<circle cx="405.3" cy="346.3" r="1.4" fill="#881010"/>
<circle cx="429.3" cy="310.3" r="1.4" fill="#881010"/>
<circle cx="490.2" cy="356.6" r="1.4" fill="#881010"/>
<circle cx="483.4" cy="337.7" r="1.4" fill="#881010"/>
<circle cx="426.7" cy="367.8" r="1.4" fill="#881010"/>
<circle cx="441.3" cy="377.2" r="1.4" fill="#881010"/>
<circle cx="411.3" cy="387.5" r="1.4" fill="#881010"/>
<circle cx="470" cy="385" r="1.4" fill="#881010"/>
<circle cx="475" cy="390" r="1.4" fill="#881010"/>
<circle cx="480" cy="383" r="1.4" fill="#881010"/>
<circle cx="465" cy="372" r="1.4" fill="#881010"/>
<circle cx="444" cy="344" r="1.4" fill="#881010"/>
<circle cx="421" cy="352" r="1.4" fill="#881010"/>
<circle cx="412" cy="337" r="1.4" fill="#881010"/>
<circle cx="400" cy="320" r="1.4" fill="#881010"/>
<circle cx="458" cy="312" r="1.4" fill="#881010"/>
<circle cx="472" cy="340" r="1.4" fill="#881010"/>
<circle cx="492" cy="392" r="1.4" fill="#881010"/>
<circle cx="425" cy="400" r="1.4" fill="#881010"/>
<circle cx="403" cy="398" r="1.4" fill="#881010"/>
</g>
<text x="401.2" y="396.3" font-size="16.5" font-weight="bold" text-anchor="start" fill="#fff" >V</text>
<rect x="497.7" y="303.3" width="99.7" height="99.3" fill="#0e0102"/>
<g filter="url(#mb)">
<circle cx="531" cy="342" r="1.4" fill="#881010"/>
<circle cx="537" cy="344.6" r="1.4" fill="#881010"/>
<circle cx="529.3" cy="356.6" r="1.4" fill="#881010"/>
<circle cx="538.7" cy="354.9" r="1.4" fill="#881010"/>
<circle cx="559.3" cy="358.3" r="1.8" fill="#d81414"/>
<circle cx="551.6" cy="336.9" r="1.4" fill="#881010"/>
<circle cx="510.4" cy="363.5" r="1.4" fill="#881010"/>
<circle cx="501" cy="353.2" r="1.4" fill="#881010"/>
<circle cx="545.6" cy="368.6" r="1.4" fill="#881010"/>
<circle cx="532.7" cy="381.5" r="1.4" fill="#881010"/>
<circle cx="558.5" cy="384.1" r="1.8" fill="#d81414"/>
<circle cx="576.5" cy="381.5" r="1.8" fill="#d81414"/>
<circle cx="592" cy="383.2" r="1.4" fill="#881010"/>
<circle cx="577.4" cy="391.8" r="1.8" fill="#d81414"/>
<circle cx="516.4" cy="394.4" r="1.4" fill="#881010"/>
<circle cx="525" cy="305.1" r="1.4" fill="#881010"/>
<circle cx="565.3" cy="382.3" r="1.4" fill="#881010"/>
<circle cx="540" cy="395" r="1.4" fill="#881010"/>
<circle cx="585" cy="355" r="1.4" fill="#881010"/>
</g>
<text x="503.2" y="396.8" font-size="16.5" font-weight="bold" text-anchor="start" fill="#fff" >P</text>
<rect x="396.3" y="415.8" width="99.5" height="99.6" fill="#030702"/>
<g filter="url(#mb)">
<circle cx="426.8" cy="427" r="1.4" fill="#881010"/>
<circle cx="416.1" cy="443.1" r="1.4" fill="#881010"/>
<circle cx="424.1" cy="454.8" r="1.8" fill="#d81414"/>
<circle cx="463.7" cy="444" r="1.8" fill="#d81414"/>
<circle cx="469.1" cy="459.3" r="1.8" fill="#d81414"/>
<circle cx="467.3" cy="466.9" r="1.8" fill="#d81414"/>
<circle cx="464.6" cy="474.6" r="1.4" fill="#881010"/>
<circle cx="447.5" cy="466.5" r="1.8" fill="#d81414"/>
<circle cx="446.6" cy="469.2" r="1.4" fill="#881010"/>
<circle cx="435.8" cy="474.6" r="1.8" fill="#d81414"/>
<circle cx="430.4" cy="475.5" r="1.8" fill="#d81414"/>
<circle cx="408.9" cy="477.3" r="1.8" fill="#d81414"/>
<circle cx="433.1" cy="480.9" r="1.8" fill="#d81414"/>
<circle cx="443.9" cy="498.8" r="1.8" fill="#d81414"/>
<circle cx="437.6" cy="491.7" r="1.4" fill="#881010"/>
<circle cx="456.5" cy="506" r="1.8" fill="#d81414"/>
<circle cx="466.4" cy="496.2" r="1.4" fill="#881010"/>
<circle cx="494.2" cy="498" r="1.8" fill="#d81414"/>
<circle cx="454.7" cy="421.6" r="1.4" fill="#881010"/>
<circle cx="462.8" cy="423.4" r="1.4" fill="#881010"/>
<circle cx="402" cy="428" r="1.4" fill="#881010"/>
<circle cx="485" cy="470" r="1.4" fill="#881010"/>
</g>
<text x="401.2" y="506.2" font-size="16.5" font-weight="bold" text-anchor="start" fill="#fff" >V</text>
<rect x="499" y="415.8" width="98.6" height="100" fill="#020602"/>
<g filter="url(#mb)">
<circle cx="552.9" cy="441" r="1.8" fill="#d81414"/>
<circle cx="511.9" cy="446.4" r="1.8" fill="#d81414"/>
<circle cx="549.5" cy="485.8" r="1.8" fill="#d81414"/>
<circle cx="588.9" cy="459.3" r="1.8" fill="#d81414"/>
<circle cx="519.9" cy="511.1" r="1.8" fill="#d81414"/>
<circle cx="530" cy="470" r="1.4" fill="#881010"/>
<circle cx="575" cy="430" r="1.4" fill="#881010"/>
</g>
<text x="502.9" y="505.8" font-size="16.5" font-weight="bold" text-anchor="start" fill="#fff" >P</text>
<path d="M470,382.5 Q477,380 481.5,374.5 Q486,380 489.5,387 L492.5,394 M466.5,397 L467.5,391 M458,388 Q463,384 468,383" stroke="#780c0c" stroke-width="2" fill="none" filter="url(#mb2)"/>
<defs><filter id="ib" x="-5%" y="-5%" width="110%" height="110%"><feGaussianBlur stdDeviation="0.9"/></filter></defs>
<rect x="462.8" y="293.4" width="41.5" height="40.1" fill="#02010c"/>
<clipPath id="ic462"><rect x="462.8" y="293.4" width="41.5" height="40.1"/></clipPath><g clip-path="url(#ic462)"><g filter="url(#ib)">
<ellipse cx="469.7" cy="299.7" rx="4" ry="4.5" fill="#f0207a"/>
<ellipse cx="483.4" cy="303.1" rx="2.6" ry="3" fill="#8a20d0"/>
<ellipse cx="498.1" cy="303.6" rx="2.6" ry="3" fill="#c02890"/>
<ellipse cx="490.8" cy="310.5" rx="3" ry="4" fill="#f0207a"/>
<ellipse cx="490.8" cy="310.5" rx="1.4" ry="1.8" fill="#8a20d0"/>
<ellipse cx="466.8" cy="312" rx="2.5" ry="2" fill="#2a2af0"/>
<ellipse cx="477.5" cy="322.7" rx="2.5" ry="2" fill="#2a2af0"/>
<ellipse cx="484.9" cy="326.2" rx="3" ry="5" fill="#f0207a"/>
<ellipse cx="484.9" cy="327" rx="1.4" ry="2" fill="#8a20d0"/>
<ellipse cx="496.2" cy="330.1" rx="2.5" ry="1.6" fill="#8a20d0"/>
<ellipse cx="501" cy="308" rx="2" ry="2.5" fill="#1a1aa0"/>
<ellipse cx="478.5" cy="294.3" rx="2" ry="1.5" fill="#8a20d0"/>
</g></g>
<line x1="462.8" y1="293.4" x2="462.8" y2="333.5" stroke="#f4f4f4" stroke-width="1.3"/>
<line x1="504.3" y1="293.4" x2="504.3" y2="333.5" stroke="#f4f4f4" stroke-width="1.3"/>
<line x1="462.15000000000003" y1="333.5" x2="504.95" y2="333.5" stroke="#f4f4f4" stroke-width="1.3"/>
<rect x="561.1" y="293.4" width="41.9" height="39.3" fill="#010008"/>
<clipPath id="ic561"><rect x="561.1" y="293.4" width="41.9" height="39.3"/></clipPath><g clip-path="url(#ic561)"><g filter="url(#ib)">
<ellipse cx="567.1" cy="302" rx="3.2" ry="2.6" fill="#f0207a"/>
<ellipse cx="565.2" cy="306.2" rx="2.6" ry="2.6" fill="#2a2af0"/>
<ellipse cx="575.5" cy="305.2" rx="2.2" ry="2.2" fill="#2a2af0"/>
<ellipse cx="595" cy="305.7" rx="1.6" ry="1.6" fill="#e01830"/>
<ellipse cx="593.8" cy="307.5" rx="1.8" ry="1.8" fill="#2a2af0"/>
<ellipse cx="592.7" cy="309.5" rx="1.4" ry="1.4" fill="#e01830"/>
<ellipse cx="598.8" cy="314.1" rx="2" ry="2" fill="#2a2af0"/>
<ellipse cx="596.9" cy="297.3" rx="2" ry="2" fill="#5020a0"/>
<ellipse cx="566.2" cy="315" rx="2" ry="2" fill="#1a1aa0"/>
<ellipse cx="569.9" cy="323.4" rx="2.5" ry="1.6" fill="#e01830"/>
<ellipse cx="570.8" cy="325.4" rx="3.6" ry="1.6" fill="#2a2af0"/>
</g></g>
<line x1="561.1" y1="293.4" x2="561.1" y2="332.7" stroke="#f4f4f4" stroke-width="1.3"/>
<line x1="603.0" y1="293.4" x2="603.0" y2="332.7" stroke="#f4f4f4" stroke-width="1.3"/>
<line x1="560.45" y1="332.7" x2="603.65" y2="332.7" stroke="#f4f4f4" stroke-width="1.3"/>
<rect x="467.2" y="407.2" width="41.8" height="41.5" fill="#06083a"/>
<clipPath id="ic467"><rect x="467.2" y="407.2" width="41.8" height="41.5"/></clipPath><g clip-path="url(#ic467)"><g filter="url(#ib)">
<ellipse cx="488" cy="420" rx="16" ry="10" fill="#0c105a"/>
<ellipse cx="480" cy="440" rx="12" ry="6" fill="#0c105a"/>
<ellipse cx="474.4" cy="426.3" rx="3" ry="1.8" fill="#2a2af0"/>
<ellipse cx="469.9" cy="430.8" rx="2.5" ry="2.2" fill="#2a2af0"/>
<ellipse cx="477.1" cy="432.5" rx="2.5" ry="2.2" fill="#2a2af0"/>
<ellipse cx="469.9" cy="435.2" rx="2.2" ry="2" fill="#2a2af0"/>
<ellipse cx="499.5" cy="428" rx="2.2" ry="3" fill="#2a2af0"/>
<ellipse cx="504.9" cy="429.9" rx="2.2" ry="2.2" fill="#2a2af0"/>
<ellipse cx="497.7" cy="440.6" rx="2.5" ry="2" fill="#2a2af0"/>
<ellipse cx="503.1" cy="439.7" rx="2.5" ry="2" fill="#2a2af0"/>
<ellipse cx="504.9" cy="444.7" rx="2.5" ry="2" fill="#2a2af0"/>
<ellipse cx="478.9" cy="414.6" rx="2.5" ry="1.8" fill="#1a1aa0"/>
<ellipse cx="503.1" cy="410.1" rx="2.5" ry="1.8" fill="#1a1aa0"/>
<ellipse cx="482.5" cy="437" rx="2.5" ry="1.6" fill="#1a1aa0"/>
<ellipse cx="490.5" cy="412.8" rx="3" ry="3" fill="#e01830"/>
<ellipse cx="490.5" cy="412.8" rx="1.8" ry="1.8" fill="#2a2af0"/>
<ellipse cx="486.5" cy="425.8" rx="3.4" ry="4" fill="#f0207a"/>
<ellipse cx="486.5" cy="425" rx="1.8" ry="2" fill="#8a20d0"/>
<ellipse cx="482.5" cy="441.5" rx="3.5" ry="1.8" fill="#e01830"/>
<ellipse cx="482.5" cy="444" rx="3.8" ry="1.8" fill="#2a2af0"/>
<ellipse cx="490.1" cy="446" rx="2" ry="1" fill="#e01830"/>
</g></g>
<line x1="467.2" y1="407.2" x2="467.2" y2="448.7" stroke="#cfcfcf" stroke-width="1.5"/>
<line x1="509.0" y1="407.2" x2="509.0" y2="448.7" stroke="#cfcfcf" stroke-width="1.5"/>
<line x1="467.2" y1="407.2" x2="509.0" y2="407.2" stroke="#cfcfcf" stroke-width="1.5"/>
<line x1="466.45" y1="448.7" x2="509.75" y2="448.7" stroke="#cfcfcf" stroke-width="1.5"/>
<rect x="566" y="408.1" width="39.5" height="38.6" fill="#040628"/>
<clipPath id="ic566"><rect x="566" y="408.1" width="39.5" height="38.6"/></clipPath><g clip-path="url(#ic566)"><g filter="url(#ib)">
<ellipse cx="592" cy="418" rx="12" ry="9" fill="#0a0e50"/>
<ellipse cx="585" cy="438" rx="14" ry="6" fill="#080c48"/>
<ellipse cx="596.5" cy="411.3" rx="5" ry="5" fill="#14148a"/>
<ellipse cx="595.7" cy="416.4" rx="3" ry="3" fill="#1a1aa0"/>
<ellipse cx="603.3" cy="427" rx="2" ry="2" fill="#2a2af0"/>
<ellipse cx="568.5" cy="429.6" rx="2.2" ry="1.6" fill="#2a2af0"/>
<ellipse cx="594" cy="443.6" rx="3" ry="2" fill="#2a2af0"/>
<ellipse cx="583.8" cy="445.8" rx="2.5" ry="1.5" fill="#2a2af0"/>
<ellipse cx="566.8" cy="437.7" rx="1.5" ry="4" fill="#1a1aa0"/>
<ellipse cx="585.1" cy="425" rx="4.5" ry="4" fill="#f02050"/>
<ellipse cx="585.1" cy="424" rx="2.2" ry="2" fill="#8a20d0"/>
</g></g>
<line x1="565.35" y1="446.70000000000005" x2="606.15" y2="446.70000000000005" stroke="#f4f4f4" stroke-width="1.3"/>
<text x="460" y="300.5" font-size="12" font-weight="bold" text-anchor="end" fill="#111" >3NT</text>
<text x="466.4" y="414.4" font-size="12.2" font-weight="bold" text-anchor="end" fill="#111" >4HNE</text>
<rect x="444.3" y="348.3" width="25.099999999999966" height="23.30000000000001" fill="none" stroke="#e8e8e8" stroke-width="1.3" stroke-dasharray="3,2"/>
<rect x="572.3" y="372.4" width="24.200000000000045" height="22.200000000000045" fill="none" stroke="#e8e8e8" stroke-width="1.3" stroke-dasharray="3,2"/>
<rect x="455.1" y="453.4" width="25.099999999999966" height="24.200000000000045" fill="none" stroke="#e8e8e8" stroke-width="1.3" stroke-dasharray="3,2"/>
<rect x="537.8" y="475.5" width="24.600000000000023" height="23.69999999999999" fill="none" stroke="#e8e8e8" stroke-width="1.3" stroke-dasharray="3,2"/>
<line x1="467.3" y1="347" x2="467.30" y2="339.10" stroke="#f0f0f0" stroke-width="1.2"/>
<path d="M467.3,335.5 L470.10,341.50 L467.30,339.40 L464.50,341.50 Z" fill="#f0f0f0"/>
<line x1="585.7" y1="371.3" x2="585.70" y2="343.10" stroke="#f0f0f0" stroke-width="1.2"/>
<path d="M585.7,339.5 L588.50,345.50 L585.70,343.40 L582.90,345.50 Z" fill="#f0f0f0"/>
<line x1="475.4" y1="453" x2="475.40" y2="444.60" stroke="#f0f0f0" stroke-width="1.2"/>
<path d="M475.4,441 L478.20,447.00 L475.40,444.90 L472.60,447.00 Z" fill="#f0f0f0"/>
<line x1="561.5" y1="475.9" x2="567.93" y2="452.97" stroke="#f0f0f0" stroke-width="1.2"/>
<path d="M568.9,449.5 L569.98,456.03 L567.85,453.26 L564.58,454.52 Z" fill="#f0f0f0"/>
<line x1="466.4" y1="397.3" x2="489.2" y2="397.3" stroke="#f0f0f0" stroke-width="1.8"/>
<line x1="568.4" y1="397.6" x2="591.1" y2="397.6" stroke="#f0f0f0" stroke-width="1.8"/>
<line x1="466.4" y1="511.8" x2="489.2" y2="511.8" stroke="#f0f0f0" stroke-width="1.8"/>
<line x1="568.9" y1="511.5" x2="591.7" y2="511.5" stroke="#f0f0f0" stroke-width="1.8"/>
<text x="14.6" y="564.2" font-size="16.5" font-weight="bold" text-anchor="start" fill="#111" >E</text>
<text x="60.3" y="602.6" font-size="11.2" font-weight="normal" text-anchor="middle" fill="#111" >mito</text>
<line x1="59.6" y1="609.4" x2="59.6" y2="613" stroke="#111" stroke-width="1.1"/>
<path d="M56.5,611.4 L62.7,611.4 L59.7,625.5 Z" fill="#111"/>
<line x1="56.4" y1="731" x2="56.4" y2="680" stroke="#111" stroke-width="1.2"/>
<path d="M53.4,682.8 L59.6,682.8 L56.5,670.3 Z" fill="#111"/>
<line x1="67.4" y1="742.8" x2="106" y2="742.8" stroke="#111" stroke-width="1.2"/>
<path d="M103.3,740.3 L103.3,745.4 L115.6,742.8 Z" fill="#111"/>
<text transform="translate(47.4,702.3) rotate(-90)" font-size="11" text-anchor="middle" fill="#111">2000 FU</text>
<text transform="translate(28,685.2) rotate(-90)" font-size="12.6" font-weight="bold" text-anchor="middle" fill="#111">Ca<tspan font-size="9" dy="-4.5">++</tspan><tspan dy="4.5"> Fluorescence</tspan></text>
<text x="82.1" y="756.4" font-size="11.2" font-weight="normal" text-anchor="middle" fill="#111" >200 sec</text>
<text x="131.4" y="740.6" font-size="10.3" fill="#111">Ca<tspan font-size="7" dy="-3.5" fill="#555"> + +</tspan></text>
<text x="140.1" y="628.4" font-size="11.4" font-weight="normal" text-anchor="start" fill="#111" >Vehicle</text>
<text x="164.1" y="604.6" font-size="11.4" font-weight="normal" text-anchor="start" fill="#111" >Pyridaben</text>
<text x="222.2" y="604.6" font-size="11.4" font-weight="normal" text-anchor="start" fill="#111" >Naive</text>
<line x1="60.9" y1="730.6" x2="71.1" y2="728.4" stroke="#111" stroke-width="1.5"/>
<line x1="60.9" y1="734" x2="71.1" y2="731.4" stroke="#111" stroke-width="1.5"/>
<path d="M71.10,731.40 L71.10,694.60 L71.55,699.67 L72.00,703.93 L72.45,707.52 L72.90,710.54 L73.35,713.07 L73.80,715.21 L74.25,717.00 L74.70,718.51 L75.15,719.78 L75.60,720.85 L76.05,721.75 L76.50,722.50 L76.95,723.14 L77.40,723.67 L77.85,724.12 L78.30,724.50 L78.75,724.82 L79.20,725.09 L79.65,725.31 L80.10,725.50 L80.55,725.66 L81.00,725.79 L81.45,725.91 L81.90,726.00 L81.90,671.50 L82.35,680.39 L82.80,687.87 L83.25,694.16 L83.70,699.46 L84.15,703.91 L84.60,707.65 L85.05,710.80 L85.50,713.45 L85.95,715.67 L86.40,717.55 L86.85,719.12 L87.30,720.45 L87.75,721.56 L88.20,722.50 L88.65,723.29 L89.10,723.95 L89.55,724.51 L90.00,724.98 L90.45,725.37 L90.90,725.70 L91.35,725.98 L91.80,726.22 L92.25,726.41 L92.70,726.58 L92.70,673.30 L93.15,681.92 L93.60,689.16 L94.05,695.26 L94.50,700.38 L94.95,704.69 L95.40,708.32 L95.85,711.37 L96.30,713.94 L96.75,716.09 L97.20,717.91 L97.65,719.43 L98.10,720.72 L98.55,721.80 L99.00,722.71 L99.45,723.47 L99.90,724.11 L100.35,724.65 L100.80,725.11 L101.25,725.49 L101.70,725.81 L102.15,726.08 L102.60,726.31 L103.05,726.50 L103.50,726.66 L103.50,668.90 L103.95,678.16 L104.40,685.95 L104.85,692.49 L105.30,698.00 L105.75,702.64 L106.20,706.53 L106.65,709.81 L107.10,712.57 L107.55,714.89 L108.00,716.84 L108.45,718.48 L108.90,719.85 L109.35,721.01 L109.80,721.99 L110.25,722.81 L110.70,723.50 L111.15,724.08 L111.60,724.57 L112.05,724.98 L112.50,725.33 L112.95,725.62 L113.40,725.86 L113.85,726.07 L114.30,726.24 L114.30,666.30 L114.75,675.83 L115.20,683.84 L115.65,690.59 L116.10,696.26 L116.55,701.02 L117.00,705.04 L117.45,708.41 L117.90,711.25 L118.35,713.63 L118.80,715.64 L119.25,717.33 L119.70,718.75 L120.15,719.94 L120.60,720.95 L121.05,721.79 L121.50,722.50 L121.95,723.10 L122.40,723.60 L122.85,724.02 L123.30,724.38 L123.75,724.68 L124.20,724.93 L124.65,725.14 L125.10,725.32 L125.10,659.60 L125.55,669.98 L126.00,678.71 L126.45,686.06 L126.90,692.24 L127.35,697.43 L127.80,701.80 L128.25,705.48 L128.70,708.57 L129.15,711.17 L129.60,713.35 L130.05,715.19 L130.50,716.74 L130.95,718.04 L131.40,719.13 L131.85,720.06 L132.30,720.83 L132.75,721.48 L133.20,722.03 L133.65,722.49 L134.10,722.88 L134.55,723.20 L135.00,723.48 L135.45,723.71 L135.90,723.90 L135.90,664.00 L136.35,673.36 L136.80,681.24 L137.25,687.86 L137.70,693.43 L138.15,698.11 L138.60,702.05 L139.05,705.37 L139.50,708.15 L139.95,710.50 L140.40,712.47 L140.85,714.13 L141.30,715.52 L141.75,716.70 L142.20,717.68 L142.65,718.51 L143.10,719.21 L143.55,719.80 L144.00,720.29 L144.45,720.71 L144.90,721.06 L145.35,721.35 L145.80,721.60 L146.25,721.81 L146.70,721.98 L146.70,671.60 L147.15,679.34 L147.60,685.86 L148.05,691.33 L148.50,695.94 L148.95,699.82 L149.40,703.08 L149.85,705.82 L150.30,708.12 L150.75,710.06 L151.20,711.69 L151.65,713.07 L152.10,714.22 L152.55,715.19 L153.00,716.01 L153.45,716.69 L153.90,717.27 L154.35,717.76 L154.80,718.16 L155.25,718.51 L155.70,718.80 L156.15,719.04 L156.60,719.24 L157.05,719.42 L157.50,719.56 L157.50,668.60 L157.95,676.36 L158.40,682.88 L158.85,688.37 L159.30,692.98 L159.75,696.86 L160.20,700.13 L160.65,702.87 L161.10,705.18 L161.55,707.13 L162.00,708.76 L162.45,710.13 L162.90,711.29 L163.35,712.26 L163.80,713.08 L164.25,713.77 L164.70,714.35 L165.15,714.83 L165.60,715.24 L166.05,715.59 L166.50,715.87 L166.95,716.12 L167.40,716.32 L167.85,716.50 L168.30,716.64 L168.30,668.00 L168.75,675.30 L169.20,681.44 L169.65,686.61 L170.10,690.95 L170.55,694.61 L171.00,697.68 L171.45,700.26 L171.90,702.44 L172.35,704.27 L172.80,705.80 L173.25,707.10 L173.70,708.18 L174.15,709.10 L174.60,709.87 L175.05,710.52 L175.50,711.06 L175.95,711.52 L176.40,711.90 L176.85,712.23 L177.30,712.50 L177.75,712.73 L178.20,712.92 L178.65,713.08 L179.10,713.22 L179.10,674.10 L179.55,679.78 L180.00,684.56 L180.45,688.58 L180.90,691.97 L181.35,694.81 L181.80,697.20 L182.25,699.21 L182.70,700.91 L183.15,702.33 L183.60,703.53 L184.05,704.53 L184.50,705.38 L184.95,706.09 L185.40,706.69 L185.85,707.20 L186.30,707.62 L186.75,707.98 L187.20,708.28 L187.65,708.53 L188.10,708.74 L188.55,708.92 L189.00,709.07 L189.45,709.19 L189.90,709.30 L189.90,670.60 L190.35,676.13 L190.80,680.79 L191.25,684.71 L191.70,688.00 L192.15,690.77 L192.60,693.10 L193.05,695.06 L193.50,696.71 L193.95,698.09 L194.40,699.26 L194.85,700.24 L195.30,701.06 L195.75,701.76 L196.20,702.34 L196.65,702.83 L197.10,703.24 L197.55,703.59 L198.00,703.88 L198.45,704.13 L198.90,704.33 L199.35,704.51 L199.80,704.65 L200.25,704.78 L200.70,704.88 L200.70,666.70 L201.15,672.07 L201.60,676.59 L202.05,680.39 L202.50,683.58 L202.95,686.27 L203.40,688.53 L203.85,690.43 L204.30,692.03 L204.75,693.37 L205.20,694.50 L205.65,695.46 L206.10,696.26 L206.55,696.93 L207.00,697.50 L207.45,697.97 L207.90,698.37 L208.35,698.71 L208.80,698.99 L209.25,699.23 L209.70,699.43 L210.15,699.60 L210.60,699.74 L211.05,699.86 L211.50,699.96 L211.5,655.3 C212.5,668 213.8,675.5 215.8,675.5 C222,676 232,640 240.2,608.8" fill="none" stroke="#000" stroke-width="1.6" stroke-linejoin="round"/>
<path d="M71.10,729.90 L71.10,694.60 L71.55,698.02 L72.00,701.01 L72.45,703.63 L72.90,705.92 L73.35,707.94 L73.80,709.70 L74.25,711.24 L74.70,712.59 L75.15,713.78 L75.60,714.82 L76.05,715.73 L76.50,716.52 L76.95,717.22 L77.40,717.83 L77.85,718.37 L78.30,718.84 L78.75,719.25 L79.20,719.61 L79.65,719.92 L80.10,720.20 L80.55,720.44 L81.00,720.65 L81.45,720.84 L81.90,721.00 L81.90,671.50 L82.35,677.73 L82.80,683.20 L83.25,687.98 L83.70,692.17 L84.15,695.84 L84.60,699.06 L85.05,701.88 L85.50,704.35 L85.95,706.51 L86.40,708.40 L86.85,710.06 L87.30,711.52 L87.75,712.79 L88.20,713.90 L88.65,714.88 L89.10,715.74 L89.55,716.49 L90.00,717.15 L90.45,717.72 L90.90,718.23 L91.35,718.67 L91.80,719.05 L92.25,719.39 L92.70,719.69 L92.70,673.30 L93.15,679.05 L93.60,684.09 L94.05,688.50 L94.50,692.37 L94.95,695.76 L95.40,698.73 L95.85,701.33 L96.30,703.60 L96.75,705.60 L97.20,707.35 L97.65,708.88 L98.10,710.22 L98.55,711.39 L99.00,712.42 L99.45,713.32 L99.90,714.11 L100.35,714.81 L100.80,715.41 L101.25,715.94 L101.70,716.41 L102.15,716.82 L102.60,717.17 L103.05,717.49 L103.50,717.76 L103.50,668.90 L103.95,674.89 L104.40,680.14 L104.85,684.74 L105.30,688.76 L105.75,692.29 L106.20,695.38 L106.65,698.09 L107.10,700.46 L107.55,702.54 L108.00,704.36 L108.45,705.96 L108.90,707.35 L109.35,708.58 L109.80,709.65 L110.25,710.59 L110.70,711.41 L111.15,712.13 L111.60,712.76 L112.05,713.32 L112.50,713.80 L112.95,714.23 L113.40,714.60 L113.85,714.92 L114.30,715.21 L114.30,666.30 L114.75,672.22 L115.20,677.40 L115.65,681.94 L116.10,685.92 L116.55,689.41 L117.00,692.46 L117.45,695.13 L117.90,697.48 L118.35,699.53 L118.80,701.33 L119.25,702.90 L119.70,704.28 L120.15,705.49 L120.60,706.55 L121.05,707.48 L121.50,708.29 L121.95,709.00 L122.40,709.62 L122.85,710.17 L123.30,710.65 L123.75,711.07 L124.20,711.44 L124.65,711.76 L125.10,712.04 L125.10,659.60 L125.55,665.89 L126.00,671.41 L126.45,676.24 L126.90,680.47 L127.35,684.18 L127.80,687.42 L128.25,690.27 L128.70,692.76 L129.15,694.94 L129.60,696.85 L130.05,698.53 L130.50,700.00 L130.95,701.28 L131.40,702.41 L131.85,703.40 L132.30,704.26 L132.75,705.02 L133.20,705.68 L133.65,706.26 L134.10,706.77 L134.55,707.22 L135.00,707.61 L135.45,707.95 L135.90,708.25 L135.90,664.00 L136.35,669.15 L136.80,673.67 L137.25,677.62 L137.70,681.09 L138.15,684.12 L138.60,686.78 L139.05,689.11 L139.50,691.15 L139.95,692.94 L140.40,694.51 L140.85,695.88 L141.30,697.08 L141.75,698.13 L142.20,699.06 L142.65,699.87 L143.10,700.57 L143.55,701.19 L144.00,701.74 L144.45,702.21 L144.90,702.63 L145.35,702.99 L145.80,703.31 L146.25,703.59 L146.70,703.84 L146.70,671.60 L147.15,675.12 L147.60,678.20 L148.05,680.91 L148.50,683.27 L148.95,685.34 L149.40,687.16 L149.85,688.75 L150.30,690.15 L150.75,691.37 L151.20,692.44 L151.65,693.37 L152.10,694.19 L152.55,694.91 L153.00,695.54 L153.45,696.10 L153.90,696.58 L154.35,697.00 L154.80,697.37 L155.25,697.70 L155.70,697.98 L156.15,698.23 L156.60,698.45 L157.05,698.64 L157.50,698.81 L157.50,668.60 L157.95,671.78 L158.40,674.56 L158.85,677.00 L159.30,679.14 L159.75,681.01 L160.20,682.65 L160.65,684.08 L161.10,685.34 L161.55,686.44 L162.00,687.41 L162.45,688.25 L162.90,688.99 L163.35,689.64 L163.80,690.21 L164.25,690.71 L164.70,691.15 L165.15,691.53 L165.60,691.86 L166.05,692.16 L166.50,692.41 L166.95,692.64 L167.40,692.84 L167.85,693.01 L168.30,693.16 L168.3,648.5 C169,654 169.8,656.9 171,656.9 C175,657 185,630 190.8,608.8" fill="none" stroke="#000" stroke-width="1.6" stroke-linejoin="round"/>
<path d="M71.10,728.40 L71.10,694.60 L71.55,696.88 L72.00,698.93 L72.45,700.79 L72.90,702.46 L73.35,703.97 L73.80,705.34 L74.25,706.57 L74.70,707.68 L75.15,708.69 L75.60,709.59 L76.05,710.41 L76.50,711.15 L76.95,711.82 L77.40,712.42 L77.85,712.96 L78.30,713.45 L78.75,713.90 L79.20,714.30 L79.65,714.66 L80.10,714.98 L80.55,715.28 L81.00,715.54 L81.45,715.78 L81.90,716.00 L81.90,671.50 L82.35,675.95 L82.80,679.97 L83.25,683.60 L83.70,686.88 L84.15,689.83 L84.60,692.50 L85.05,694.91 L85.50,697.09 L85.95,699.05 L86.40,700.83 L86.85,702.43 L87.30,703.87 L87.75,705.18 L88.20,706.35 L88.65,707.42 L89.10,708.38 L89.55,709.25 L90.00,710.03 L90.45,710.73 L90.90,711.37 L91.35,711.95 L91.80,712.47 L92.25,712.94 L92.70,713.36 L92.70,673.30 L93.15,677.14 L93.60,680.61 L94.05,683.75 L94.50,686.57 L94.95,689.13 L95.40,691.43 L95.85,693.51 L96.30,695.39 L96.75,697.09 L97.20,698.62 L97.65,700.00 L98.10,701.25 L98.55,702.38 L99.00,703.39 L99.45,704.31 L99.90,705.14 L100.35,705.89 L100.80,706.56 L101.25,707.17 L101.70,707.72 L102.15,708.22 L102.60,708.67 L103.05,709.07 L103.50,709.44 L103.50,668.90 L103.95,672.66 L104.40,676.05 L104.85,679.11 L105.30,681.88 L105.75,684.38 L106.20,686.63 L106.65,688.67 L107.10,690.50 L107.55,692.16 L108.00,693.66 L108.45,695.01 L108.90,696.23 L109.35,697.33 L109.80,698.33 L110.25,699.22 L110.70,700.03 L111.15,700.77 L111.60,701.43 L112.05,702.02 L112.50,702.56 L112.95,703.05 L113.40,703.49 L113.85,703.88 L114.30,704.24 L114.30,666.30 L114.75,669.65 L115.20,672.67 L115.65,675.39 L116.10,677.86 L116.55,680.08 L117.00,682.08 L117.45,683.90 L117.90,685.53 L118.35,687.01 L118.80,688.34 L119.25,689.54 L119.70,690.63 L120.15,691.61 L120.60,692.50 L121.05,693.29 L121.50,694.02 L121.95,694.67 L122.40,695.26 L122.85,695.79 L123.30,696.27 L123.75,696.70 L124.20,697.09 L124.65,697.44 L125.10,697.76 L125.10,659.60 L125.55,662.83 L126.00,665.75 L126.45,668.39 L126.90,670.77 L127.35,672.91 L127.80,674.85 L128.25,676.60 L128.70,678.18 L129.15,679.61 L129.60,680.90 L130.05,682.06 L130.50,683.11 L130.95,684.06 L131.40,684.91 L131.85,685.68 L132.30,686.38 L132.75,687.01 L133.20,687.58 L133.65,688.09 L134.10,688.56 L134.55,688.97 L135.00,689.35 L135.45,689.69 L135.90,690.00 L135.9,645 C137.2,655 139.3,661.8 142.5,661.8 C148,662 158,642 164.9,631.8" fill="none" stroke="#000" stroke-width="1.6" stroke-linejoin="round"/>
<text x="314.6" y="566.1" font-size="16.8" font-weight="bold" text-anchor="start" fill="#111" >F</text>
<line x1="369.8" y1="604.4" x2="369.8" y2="752.8" stroke="#222" stroke-width="1.4"/>
<line x1="365.8" y1="752.4" x2="370" y2="752.4" stroke="#222" stroke-width="0.9"/>
<line x1="367.6" y1="740.0675" x2="370" y2="740.0675" stroke="#222" stroke-width="0.9"/>
<line x1="367.6" y1="727.735" x2="370" y2="727.735" stroke="#222" stroke-width="0.9"/>
<line x1="367.6" y1="715.4024999999999" x2="370" y2="715.4024999999999" stroke="#222" stroke-width="0.9"/>
<line x1="365.8" y1="703.0699999999999" x2="370" y2="703.0699999999999" stroke="#222" stroke-width="0.9"/>
<line x1="367.6" y1="690.7375" x2="370" y2="690.7375" stroke="#222" stroke-width="0.9"/>
<line x1="367.6" y1="678.405" x2="370" y2="678.405" stroke="#222" stroke-width="0.9"/>
<line x1="367.6" y1="666.0725" x2="370" y2="666.0725" stroke="#222" stroke-width="0.9"/>
<line x1="365.8" y1="653.74" x2="370" y2="653.74" stroke="#222" stroke-width="0.9"/>
<line x1="367.6" y1="641.4075" x2="370" y2="641.4075" stroke="#222" stroke-width="0.9"/>
<line x1="367.6" y1="629.075" x2="370" y2="629.075" stroke="#222" stroke-width="0.9"/>
<line x1="367.6" y1="616.7425" x2="370" y2="616.7425" stroke="#222" stroke-width="0.9"/>
<line x1="365.8" y1="604.41" x2="370" y2="604.41" stroke="#222" stroke-width="0.9"/>
<text x="361.6" y="758.3" font-size="12.5" font-weight="normal" text-anchor="end" fill="#111" >0</text>
<text x="361.6" y="708.9699999999999" font-size="12.5" font-weight="normal" text-anchor="end" fill="#111" >1</text>
<text x="361.6" y="659.64" font-size="12.5" font-weight="normal" text-anchor="end" fill="#111" >2</text>
<text x="361.6" y="610.31" font-size="12.5" font-weight="normal" text-anchor="end" fill="#111" >3</text>
<text transform="translate(330.6,675.3) rotate(-90)" font-size="12.8" font-weight="bold" text-anchor="middle" fill="#111">Ca<tspan font-size="8" dy="-4.5">++</tspan><tspan dy="4.5"> buffering capacity</tspan></text>
<text transform="translate(344.3,676.6) rotate(-90)" font-size="12.7" font-weight="bold" text-anchor="middle" fill="#111">nmol/mg protein x 10<tspan font-size="9" dy="-5">3</tspan></text>
<rect x="375.1" y="616.7" width="27.299999999999955" height="135.69999999999993" fill="#fff" stroke="#000" stroke-width="1" />
<line x1="388.7" y1="616.2" x2="388.7" y2="605.9" stroke="#000" stroke-width="1"/>
<line x1="386.9" y1="605.9" x2="390.5" y2="605.9" stroke="#000" stroke-width="1"/>
<line x1="388.7" y1="752.4" x2="388.7" y2="755.2" stroke="#222" stroke-width="1"/>
<line x1="421.5" y1="752.4" x2="421.5" y2="755.2" stroke="#222" stroke-width="1"/>
<line x1="455.9" y1="752.4" x2="455.9" y2="755.2" stroke="#222" stroke-width="1"/>
<rect x="407.3" y="673.4" width="29.80000000000001" height="79.0" fill="#000" stroke="#000" stroke-width="1" />
<line x1="421.5" y1="672.9" x2="421.5" y2="664.7" stroke="#000" stroke-width="1"/>
<line x1="419.7" y1="664.7" x2="423.3" y2="664.7" stroke="#000" stroke-width="1"/>
<rect x="441.1" y="649.9" width="28.399999999999977" height="102.5" fill="#808080" stroke="#000" stroke-width="1" />
<line x1="455.9" y1="649.4" x2="455.9" y2="639.7" stroke="#000" stroke-width="1"/>
<line x1="454.09999999999997" y1="639.7" x2="457.7" y2="639.7" stroke="#000" stroke-width="1"/>
<path d="M387.6,588.2 V579.4 H455.3 V594.1" fill="none" stroke="#222" stroke-width="1"/>
<text x="419.5" y="577.4" font-size="11.2" font-weight="normal" text-anchor="middle" fill="#111" >p &lt; 0.0001</text>
<path d="M388.2,607.4 V600 H421.2 V611.8" fill="none" stroke="#222" stroke-width="1"/>
<text x="401.5" y="595.6" font-size="11.2" font-weight="normal" text-anchor="middle" fill="#111" >p = 0.01</text>
<path d="M421.2,639.7 V629.4 H455.9 V635.3" fill="none" stroke="#222" stroke-width="1"/>
<text x="435.3" y="625" font-size="11.3" font-weight="normal" text-anchor="middle" fill="#111" >p = 0.04</text>
<text x="386" y="767" font-size="12" font-weight="normal" text-anchor="middle" fill="#111" >Naive</text>
<text x="422.5" y="767" font-size="12" font-weight="normal" text-anchor="middle" fill="#111" >Veh</text>
<text x="452.5" y="767" font-size="12" font-weight="normal" text-anchor="middle" fill="#111" >Pyr</text>
</svg></body></html>
